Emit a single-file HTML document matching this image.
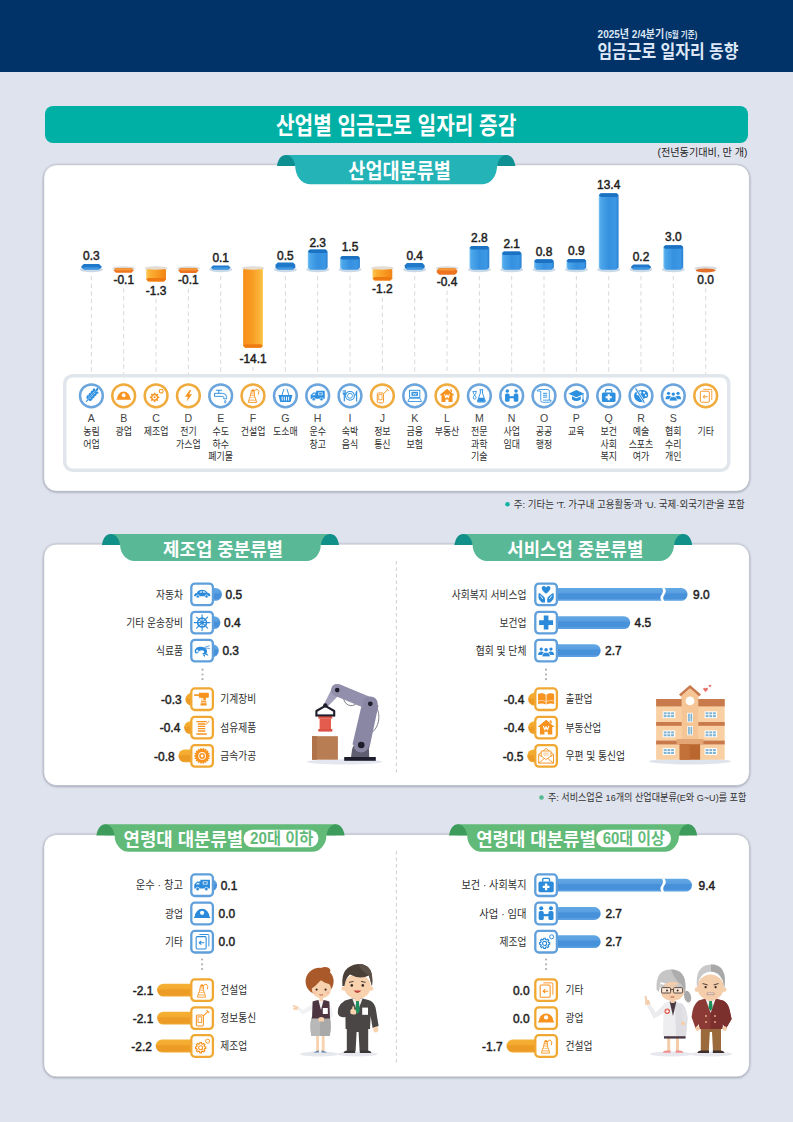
<!DOCTYPE html>
<html lang="ko"><head><meta charset="utf-8"><title>임금근로 일자리 동향</title>
<style>html,body{margin:0;padding:0;background:#dfe3ee;}svg{display:block}text{font-family:"Liberation Sans","Noto Sans CJK KR",sans-serif;}</style></head>
<body><svg width="793" height="1122" viewBox="0 0 793 1122">
<defs>
<filter id="sh" x="-2%" y="-4%" width="104%" height="110%"><feDropShadow dx="0" dy="0.5" stdDeviation="0.8" flood-color="#3c4256" flood-opacity="0.6"/></filter>
<linearGradient id="gb" x1="0" x2="1" y1="0" y2="0"><stop offset="0" stop-color="#79c2f3"/><stop offset="0.1" stop-color="#4da7ea"/><stop offset="0.5" stop-color="#3591e0"/><stop offset="0.86" stop-color="#3c97e4"/><stop offset="1" stop-color="#2a80d2"/></linearGradient>
<linearGradient id="go" x1="0" x2="1" y1="0" y2="0"><stop offset="0" stop-color="#fdc85a"/><stop offset="0.2" stop-color="#fbb034"/><stop offset="0.7" stop-color="#f7941d"/><stop offset="1" stop-color="#f08519"/></linearGradient>
<linearGradient id="go2" x1="0" x2="1" y1="0" y2="0"><stop offset="0" stop-color="#f78f1c"/><stop offset="0.45" stop-color="#f89c22"/><stop offset="0.85" stop-color="#fbb53c"/><stop offset="1" stop-color="#fdc646"/></linearGradient>
<linearGradient id="hb" x1="0" x2="0" y1="0" y2="1"><stop offset="0" stop-color="#62a8e5"/><stop offset="0.36" stop-color="#5aa0e1"/><stop offset="0.46" stop-color="#4790da"/><stop offset="0.82" stop-color="#4790da"/><stop offset="0.9" stop-color="#5a9fe0"/><stop offset="1" stop-color="#5a9fe0"/></linearGradient>
<linearGradient id="ho" x1="0" x2="0" y1="0" y2="1"><stop offset="0" stop-color="#f6b235"/><stop offset="0.4" stop-color="#f3a92e"/><stop offset="0.5" stop-color="#ec9c25"/><stop offset="0.85" stop-color="#ec9c25"/><stop offset="1" stop-color="#f2a830"/></linearGradient>
</defs>
<rect width="793" height="1122" fill="#dfe3ee"/>
<rect width="793" height="72" fill="#023368"/>
<text x="597.6" y="38.2" font-size="11" font-weight="bold" fill="#dce6f5" textLength="66.6" lengthAdjust="spacingAndGlyphs">2025년 2/4분기</text>
<text x="665.2" y="37.6" font-size="8.6" font-weight="bold" fill="#dce6f5" textLength="32" lengthAdjust="spacingAndGlyphs">(5월 기준)</text>
<text x="597.4" y="58.2" font-size="18" font-weight="bold" fill="#dde7f6" textLength="141" lengthAdjust="spacingAndGlyphs">임금근로 일자리 동향</text>
<rect x="45" y="106" width="703" height="37" rx="8" fill="#00b0a4"/>
<text x="276" y="134" font-size="24" font-weight="bold" fill="#fff" textLength="240.3" lengthAdjust="spacingAndGlyphs">산업별 임금근로 일자리 증감</text>
<text x="657.5" y="156.2" font-size="10" fill="#222" textLength="90" lengthAdjust="spacingAndGlyphs">(전년동기대비, 만 개)</text>
<rect x="44.0" y="165.0" width="705.2" height="326.1" rx="12.5" fill="#fff" stroke="#bfc3cd" stroke-width="0.8" filter="url(#sh)"/>
<rect x="44.5" y="165.5" width="704.2" height="325.1" rx="12" fill="#fff"/>
<path d="M285.6,155 H506.7 V165.5 H497.1 A14.3,18.69999999999999 0 0 1 482.8,184.2 H309.5 A14.3,18.69999999999999 0 0 1 295.2,165.5 H285.6 Z" fill="#24b3b7"/>
<path d="M277,165.9 C278,158.7 281.6,155 285.6,155 C290.2,155 294.2,158.7 295.2,165.9 Z" fill="#0e8f91"/>
<path d="M515.3,165.9 C514.3,158.7 510.7,155 506.7,155 C502.1,155 498.1,158.7 497.1,165.9 Z" fill="#0e8f91"/>
<text x="348.3" y="177.8" font-size="21" font-weight="bold" fill="#fff" textLength="102.6" lengthAdjust="spacingAndGlyphs">산업대분류별</text>
<line x1="91.4" y1="276.0" x2="91.4" y2="374.5" stroke="#d3d5d8" stroke-width="0.9" stroke-dasharray="4.4 3.2"/>
<ellipse cx="91.4" cy="269.6" rx="11.6" ry="2.6" fill="#c9d9e8"/>
<path d="M81.5,266.3 L83.7,264.1 L99.1,264.1 L101.3,266.3 L101.3,267.2 L99.1,269.4 L83.7,269.4 L81.5,267.2 Z" fill="#1f78c9"/>
<path d="M83.0,268.4 L84.2,267.2 L98.6,267.2 L99.8,268.4 L99.8,268.2 L98.6,269.4 L84.2,269.4 L83.0,268.2 Z" fill="#3f97e2"/>
<text transform="translate(91.40,259.50) scale(0.95,1)" font-size="12.6" font-weight="normal" text-anchor="middle" fill="#1f1f1f" stroke="#1f1f1f" stroke-width="0.5" stroke-linejoin="round">0.3</text>
<line x1="123.7" y1="288.3" x2="123.7" y2="374.5" stroke="#d3d5d8" stroke-width="0.9" stroke-dasharray="4.4 3.2"/>
<ellipse cx="123.7" cy="268.4" rx="11.4" ry="2.2" fill="#d9dadc"/>
<path d="M113.5,270.4 L115.9,268.0 L131.5,268.0 L133.9,270.4 L133.9,270.3 L131.5,272.7 L115.9,272.7 L113.5,270.3 Z" fill="#ee7320"/>
<path d="M114.8,269.4 L116.0,268.2 L131.4,268.2 L132.6,269.4 L132.6,269.2 L131.4,270.4 L116.0,270.4 L114.8,269.2 Z" fill="#f59a3a"/>
<text transform="translate(123.73,284.10) scale(0.95,1)" font-size="12.6" font-weight="normal" text-anchor="middle" fill="#1f1f1f" stroke="#1f1f1f" stroke-width="0.5" stroke-linejoin="round">-0.1</text>
<line x1="156.1" y1="298.9" x2="156.1" y2="374.5" stroke="#d3d5d8" stroke-width="0.9" stroke-dasharray="4.4 3.2"/>
<ellipse cx="156.1" cy="268.4" rx="11.4" ry="2.2" fill="#d9dadc"/>
<path d="M146.2,270.0 L148.4,267.8 L163.8,267.8 L166.0,270.0 L166.0,279.3 L163.8,281.5 L148.4,281.5 L146.2,279.3 Z" fill="url(#go)"/>
<path d="M146.2,280.0 L148.1,278.1 L164.1,278.1 L166.0,280.0 L166.0,279.6 L164.1,281.5 L148.1,281.5 L146.2,279.6 Z" fill="#ef7a12"/>
<ellipse cx="156.1" cy="268.2" rx="10.6" ry="1.5" fill="#e6ddd2"/>
<text transform="translate(156.06,294.70) scale(0.95,1)" font-size="12.6" font-weight="normal" text-anchor="middle" fill="#1f1f1f" stroke="#1f1f1f" stroke-width="0.5" stroke-linejoin="round">-1.3</text>
<line x1="188.4" y1="288.6" x2="188.4" y2="374.5" stroke="#d3d5d8" stroke-width="0.9" stroke-dasharray="4.4 3.2"/>
<ellipse cx="188.4" cy="268.4" rx="11.4" ry="2.2" fill="#d9dadc"/>
<path d="M178.2,270.4 L180.6,268.0 L196.2,268.0 L198.6,270.4 L198.6,270.6 L196.2,273.0 L180.6,273.0 L178.2,270.6 Z" fill="#ee7320"/>
<path d="M179.5,269.4 L180.7,268.2 L196.1,268.2 L197.3,269.4 L197.3,269.2 L196.1,270.4 L180.7,270.4 L179.5,269.2 Z" fill="#f59a3a"/>
<text transform="translate(188.39,284.40) scale(0.95,1)" font-size="12.6" font-weight="normal" text-anchor="middle" fill="#1f1f1f" stroke="#1f1f1f" stroke-width="0.5" stroke-linejoin="round">-0.1</text>
<line x1="220.7" y1="276.0" x2="220.7" y2="374.5" stroke="#d3d5d8" stroke-width="0.9" stroke-dasharray="4.4 3.2"/>
<ellipse cx="220.7" cy="269.6" rx="11.6" ry="2.6" fill="#c9d9e8"/>
<path d="M210.8,267.8 L213.0,265.6 L228.4,265.6 L230.6,267.8 L230.6,267.2 L228.4,269.4 L213.0,269.4 L210.8,267.2 Z" fill="#1f78c9"/>
<path d="M212.3,268.4 L213.5,267.2 L227.9,267.2 L229.1,268.4 L229.1,268.2 L227.9,269.4 L213.5,269.4 L212.3,268.2 Z" fill="#3f97e2"/>
<text transform="translate(220.72,262.40) scale(0.95,1)" font-size="12.6" font-weight="normal" text-anchor="middle" fill="#1f1f1f" stroke="#1f1f1f" stroke-width="0.5" stroke-linejoin="round">0.1</text>
<line x1="253.0" y1="366.7" x2="253.0" y2="374.5" stroke="#d3d5d8" stroke-width="0.9" stroke-dasharray="4.4 3.2"/>
<ellipse cx="253.0" cy="268.4" rx="11.4" ry="2.2" fill="#d9dadc"/>
<path d="M243.1,270.0 L245.3,267.8 L260.8,267.8 L262.9,270.0 L262.9,345.5 L260.8,347.7 L245.3,347.7 L243.1,345.5 Z" fill="url(#go2)"/>
<path d="M243.1,346.2 L245.0,344.3 L261.1,344.3 L262.9,346.2 L262.9,345.8 L261.1,347.7 L245.0,347.7 L243.1,345.8 Z" fill="#ef7a12"/>
<ellipse cx="253.0" cy="268.2" rx="10.6" ry="1.5" fill="#e6ddd2"/>
<text transform="translate(253.05,362.50) scale(0.95,1)" font-size="12.6" font-weight="normal" text-anchor="middle" fill="#1f1f1f" stroke="#1f1f1f" stroke-width="0.5" stroke-linejoin="round">-14.1</text>
<line x1="285.4" y1="276.0" x2="285.4" y2="374.5" stroke="#d3d5d8" stroke-width="0.9" stroke-dasharray="4.4 3.2"/>
<ellipse cx="285.4" cy="269.6" rx="11.6" ry="2.6" fill="#c9d9e8"/>
<path d="M275.5,264.7 L277.7,262.5 L293.1,262.5 L295.3,264.7 L295.3,267.2 L293.1,269.4 L277.7,269.4 L275.5,267.2 Z" fill="#1f78c9"/>
<path d="M277.0,268.4 L278.2,267.2 L292.6,267.2 L293.8,268.4 L293.8,268.2 L292.6,269.4 L278.2,269.4 L277.0,268.2 Z" fill="#3f97e2"/>
<text transform="translate(285.38,259.70) scale(0.95,1)" font-size="12.6" font-weight="normal" text-anchor="middle" fill="#1f1f1f" stroke="#1f1f1f" stroke-width="0.5" stroke-linejoin="round">0.5</text>
<line x1="317.7" y1="276.0" x2="317.7" y2="374.5" stroke="#d3d5d8" stroke-width="0.9" stroke-dasharray="4.4 3.2"/>
<ellipse cx="317.7" cy="269.6" rx="11.6" ry="2.6" fill="#c9d9e8"/>
<path d="M307.8,251.9 L310.2,249.5 L325.2,249.5 L327.6,251.9 L327.6,267.4 L325.2,269.8 L310.2,269.8 L307.8,267.4 Z" fill="url(#gb)"/>
<path d="M307.8,251.3 L309.6,249.5 L325.8,249.5 L327.6,251.3 L327.6,251.3 L325.8,253.1 L309.6,253.1 L307.8,251.3 Z" fill="#1c72c2"/>
<text transform="translate(317.71,246.50) scale(0.95,1)" font-size="12.6" font-weight="normal" text-anchor="middle" fill="#1f1f1f" stroke="#1f1f1f" stroke-width="0.5" stroke-linejoin="round">2.3</text>
<line x1="350.0" y1="276.0" x2="350.0" y2="374.5" stroke="#d3d5d8" stroke-width="0.9" stroke-dasharray="4.4 3.2"/>
<ellipse cx="350.0" cy="269.6" rx="11.6" ry="2.6" fill="#c9d9e8"/>
<path d="M340.1,258.3 L342.5,255.9 L357.5,255.9 L359.9,258.3 L359.9,267.4 L357.5,269.8 L342.5,269.8 L340.1,267.4 Z" fill="url(#gb)"/>
<path d="M340.1,257.7 L341.9,255.9 L358.1,255.9 L359.9,257.7 L359.9,257.7 L358.1,259.5 L341.9,259.5 L340.1,257.7 Z" fill="#1c72c2"/>
<text transform="translate(350.04,250.90) scale(0.95,1)" font-size="12.6" font-weight="normal" text-anchor="middle" fill="#1f1f1f" stroke="#1f1f1f" stroke-width="0.5" stroke-linejoin="round">1.5</text>
<line x1="382.4" y1="297.5" x2="382.4" y2="374.5" stroke="#d3d5d8" stroke-width="0.9" stroke-dasharray="4.4 3.2"/>
<ellipse cx="382.4" cy="268.4" rx="11.4" ry="2.2" fill="#d9dadc"/>
<path d="M372.5,270.0 L374.7,267.8 L390.1,267.8 L392.3,270.0 L392.3,278.2 L390.1,280.4 L374.7,280.4 L372.5,278.2 Z" fill="url(#go)"/>
<path d="M372.5,278.9 L374.4,277.0 L390.4,277.0 L392.3,278.9 L392.3,278.5 L390.4,280.4 L374.4,280.4 L372.5,278.5 Z" fill="#ef7a12"/>
<ellipse cx="382.4" cy="268.2" rx="10.6" ry="1.5" fill="#e6ddd2"/>
<text transform="translate(382.37,293.30) scale(0.95,1)" font-size="12.6" font-weight="normal" text-anchor="middle" fill="#1f1f1f" stroke="#1f1f1f" stroke-width="0.5" stroke-linejoin="round">-1.2</text>
<line x1="414.7" y1="276.0" x2="414.7" y2="374.5" stroke="#d3d5d8" stroke-width="0.9" stroke-dasharray="4.4 3.2"/>
<ellipse cx="414.7" cy="269.6" rx="11.6" ry="2.6" fill="#c9d9e8"/>
<path d="M404.8,265.2 L407.0,263.0 L422.4,263.0 L424.6,265.2 L424.6,267.2 L422.4,269.4 L407.0,269.4 L404.8,267.2 Z" fill="#1f78c9"/>
<path d="M406.3,268.4 L407.5,267.2 L421.9,267.2 L423.1,268.4 L423.1,268.2 L421.9,269.4 L407.5,269.4 L406.3,268.2 Z" fill="#3f97e2"/>
<text transform="translate(414.70,259.50) scale(0.95,1)" font-size="12.6" font-weight="normal" text-anchor="middle" fill="#1f1f1f" stroke="#1f1f1f" stroke-width="0.5" stroke-linejoin="round">0.4</text>
<line x1="447.0" y1="290.6" x2="447.0" y2="374.5" stroke="#d3d5d8" stroke-width="0.9" stroke-dasharray="4.4 3.2"/>
<ellipse cx="447.0" cy="268.4" rx="11.4" ry="2.2" fill="#d9dadc"/>
<path d="M436.8,270.4 L439.2,268.0 L454.8,268.0 L457.2,270.4 L457.2,272.4 L454.8,274.8 L439.2,274.8 L436.8,272.4 Z" fill="#ee7320"/>
<path d="M438.1,269.4 L439.3,268.2 L454.7,268.2 L455.9,269.4 L455.9,269.2 L454.7,270.4 L439.3,270.4 L438.1,269.2 Z" fill="#f59a3a"/>
<text transform="translate(447.03,286.40) scale(0.95,1)" font-size="12.6" font-weight="normal" text-anchor="middle" fill="#1f1f1f" stroke="#1f1f1f" stroke-width="0.5" stroke-linejoin="round">-0.4</text>
<line x1="479.4" y1="276.0" x2="479.4" y2="374.5" stroke="#d3d5d8" stroke-width="0.9" stroke-dasharray="4.4 3.2"/>
<ellipse cx="479.4" cy="269.6" rx="11.6" ry="2.6" fill="#c9d9e8"/>
<path d="M469.5,248.3 L471.9,245.9 L486.9,245.9 L489.3,248.3 L489.3,267.4 L486.9,269.8 L471.9,269.8 L469.5,267.4 Z" fill="url(#gb)"/>
<path d="M469.5,247.7 L471.3,245.9 L487.5,245.9 L489.3,247.7 L489.3,247.7 L487.5,249.5 L471.3,249.5 L469.5,247.7 Z" fill="#1c72c2"/>
<text transform="translate(479.36,241.50) scale(0.95,1)" font-size="12.6" font-weight="normal" text-anchor="middle" fill="#1f1f1f" stroke="#1f1f1f" stroke-width="0.5" stroke-linejoin="round">2.8</text>
<line x1="511.7" y1="276.0" x2="511.7" y2="374.5" stroke="#d3d5d8" stroke-width="0.9" stroke-dasharray="4.4 3.2"/>
<ellipse cx="511.7" cy="269.6" rx="11.6" ry="2.6" fill="#c9d9e8"/>
<path d="M501.8,253.9 L504.2,251.5 L519.2,251.5 L521.6,253.9 L521.6,267.4 L519.2,269.8 L504.2,269.8 L501.8,267.4 Z" fill="url(#gb)"/>
<path d="M501.8,253.3 L503.6,251.5 L519.8,251.5 L521.6,253.3 L521.6,253.3 L519.8,255.1 L503.6,255.1 L501.8,253.3 Z" fill="#1c72c2"/>
<text transform="translate(511.69,247.80) scale(0.95,1)" font-size="12.6" font-weight="normal" text-anchor="middle" fill="#1f1f1f" stroke="#1f1f1f" stroke-width="0.5" stroke-linejoin="round">2.1</text>
<line x1="544.0" y1="276.0" x2="544.0" y2="374.5" stroke="#d3d5d8" stroke-width="0.9" stroke-dasharray="4.4 3.2"/>
<ellipse cx="544.0" cy="269.6" rx="11.6" ry="2.6" fill="#c9d9e8"/>
<path d="M534.1,261.7 L536.5,259.3 L551.5,259.3 L553.9,261.7 L553.9,267.4 L551.5,269.8 L536.5,269.8 L534.1,267.4 Z" fill="url(#gb)"/>
<path d="M534.1,261.1 L535.9,259.3 L552.1,259.3 L553.9,261.1 L553.9,261.1 L552.1,262.9 L535.9,262.9 L534.1,261.1 Z" fill="#1c72c2"/>
<text transform="translate(544.02,256.00) scale(0.95,1)" font-size="12.6" font-weight="normal" text-anchor="middle" fill="#1f1f1f" stroke="#1f1f1f" stroke-width="0.5" stroke-linejoin="round">0.8</text>
<line x1="576.4" y1="276.0" x2="576.4" y2="374.5" stroke="#d3d5d8" stroke-width="0.9" stroke-dasharray="4.4 3.2"/>
<ellipse cx="576.4" cy="269.6" rx="11.6" ry="2.6" fill="#c9d9e8"/>
<path d="M566.5,261.3 L568.9,258.9 L583.9,258.9 L586.2,261.3 L586.2,267.4 L583.9,269.8 L568.9,269.8 L566.5,267.4 Z" fill="url(#gb)"/>
<path d="M566.5,260.7 L568.2,258.9 L584.5,258.9 L586.2,260.7 L586.2,260.7 L584.5,262.5 L568.2,262.5 L566.5,260.7 Z" fill="#1c72c2"/>
<text transform="translate(576.35,255.40) scale(0.95,1)" font-size="12.6" font-weight="normal" text-anchor="middle" fill="#1f1f1f" stroke="#1f1f1f" stroke-width="0.5" stroke-linejoin="round">0.9</text>
<line x1="608.7" y1="276.0" x2="608.7" y2="374.5" stroke="#d3d5d8" stroke-width="0.9" stroke-dasharray="4.4 3.2"/>
<ellipse cx="608.7" cy="269.6" rx="11.6" ry="2.6" fill="#c9d9e8"/>
<path d="M598.8,195.7 L601.2,193.3 L616.2,193.3 L618.6,195.7 L618.6,267.4 L616.2,269.8 L601.2,269.8 L598.8,267.4 Z" fill="url(#gb)"/>
<path d="M598.8,195.1 L600.6,193.3 L616.8,193.3 L618.6,195.1 L618.6,195.1 L616.8,196.9 L600.6,196.9 L598.8,195.1 Z" fill="#1c72c2"/>
<text transform="translate(608.68,189.00) scale(0.95,1)" font-size="12.6" font-weight="normal" text-anchor="middle" fill="#1f1f1f" stroke="#1f1f1f" stroke-width="0.5" stroke-linejoin="round">13.4</text>
<line x1="641.0" y1="276.0" x2="641.0" y2="374.5" stroke="#d3d5d8" stroke-width="0.9" stroke-dasharray="4.4 3.2"/>
<ellipse cx="641.0" cy="269.6" rx="11.6" ry="2.6" fill="#c9d9e8"/>
<path d="M631.1,266.8 L633.3,264.6 L648.7,264.6 L650.9,266.8 L650.9,267.2 L648.7,269.4 L633.3,269.4 L631.1,267.2 Z" fill="#1f78c9"/>
<path d="M632.6,268.4 L633.8,267.2 L648.2,267.2 L649.4,268.4 L649.4,268.2 L648.2,269.4 L633.8,269.4 L632.6,268.2 Z" fill="#3f97e2"/>
<text transform="translate(641.01,260.90) scale(0.95,1)" font-size="12.6" font-weight="normal" text-anchor="middle" fill="#1f1f1f" stroke="#1f1f1f" stroke-width="0.5" stroke-linejoin="round">0.2</text>
<line x1="673.3" y1="276.0" x2="673.3" y2="374.5" stroke="#d3d5d8" stroke-width="0.9" stroke-dasharray="4.4 3.2"/>
<ellipse cx="673.3" cy="269.6" rx="11.6" ry="2.6" fill="#c9d9e8"/>
<path d="M663.4,247.6 L665.8,245.2 L680.8,245.2 L683.2,247.6 L683.2,267.4 L680.8,269.8 L665.8,269.8 L663.4,267.4 Z" fill="url(#gb)"/>
<path d="M663.4,247.0 L665.2,245.2 L681.4,245.2 L683.2,247.0 L683.2,247.0 L681.4,248.8 L665.2,248.8 L663.4,247.0 Z" fill="#1c72c2"/>
<text transform="translate(673.34,240.90) scale(0.95,1)" font-size="12.6" font-weight="normal" text-anchor="middle" fill="#1f1f1f" stroke="#1f1f1f" stroke-width="0.5" stroke-linejoin="round">3.0</text>
<line x1="705.7" y1="288.3" x2="705.7" y2="374.5" stroke="#d3d5d8" stroke-width="0.9" stroke-dasharray="4.4 3.2"/>
<ellipse cx="705.7" cy="268.4" rx="11.4" ry="2.2" fill="#d9dadc"/>
<ellipse cx="705.7" cy="270.4" rx="10" ry="2" fill="#e2702a"/>
<text transform="translate(705.67,284.10) scale(0.95,1)" font-size="12.6" font-weight="normal" text-anchor="middle" fill="#1f1f1f" stroke="#1f1f1f" stroke-width="0.5" stroke-linejoin="round">0.0</text>
<rect x="64.75" y="375.75" width="664" height="94.5" rx="8" fill="#fff" stroke="#e0e6ec" stroke-width="3.5"/>
<circle cx="91.4" cy="395.8" r="11.4" fill="#fff" stroke="#6ba5dc" stroke-width="2.5"/><g transform="translate(91.4,395.8) scale(0.95)"><g transform="rotate(42)"><line x1="0" y1="8.5" x2="0" y2="-8" stroke="#2d8fe0" stroke-width="1.1"/><ellipse cx="-2" cy="-6.0" rx="1.3" ry="2.1" transform="rotate(-28 -2 -6.0)" fill="#2d8fe0"/><ellipse cx="2" cy="-6.0" rx="1.3" ry="2.1" transform="rotate(28 2 -6.0)" fill="#2d8fe0"/><ellipse cx="-2" cy="-2.8" rx="1.3" ry="2.1" transform="rotate(-28 -2 -2.8)" fill="#2d8fe0"/><ellipse cx="2" cy="-2.8" rx="1.3" ry="2.1" transform="rotate(28 2 -2.8)" fill="#2d8fe0"/><ellipse cx="-2" cy="0.40000000000000036" rx="1.3" ry="2.1" transform="rotate(-28 -2 0.40000000000000036)" fill="#2d8fe0"/><ellipse cx="2" cy="0.40000000000000036" rx="1.3" ry="2.1" transform="rotate(28 2 0.40000000000000036)" fill="#2d8fe0"/><ellipse cx="-2" cy="3.6000000000000014" rx="1.3" ry="2.1" transform="rotate(-28 -2 3.6000000000000014)" fill="#2d8fe0"/><ellipse cx="2" cy="3.6000000000000014" rx="1.3" ry="2.1" transform="rotate(28 2 3.6000000000000014)" fill="#2d8fe0"/><ellipse cx="0" cy="-8.6" rx="1.2" ry="2" fill="#2d8fe0"/></g></g>
<text x="91.4" y="422.2" font-size="10.6" text-anchor="middle" fill="#444">A</text>
<text x="83.16" y="435.3" font-size="10.3" fill="#2e2e2e" textLength="16.5" lengthAdjust="spacingAndGlyphs">농림</text>
<text x="83.16" y="447.5" font-size="10.3" fill="#2e2e2e" textLength="16.5" lengthAdjust="spacingAndGlyphs">어업</text>
<circle cx="123.7" cy="395.8" r="11.4" fill="#fff" stroke="#f0ab3e" stroke-width="2.5"/><g transform="translate(123.7,395.8) scale(0.95)"><path d="M-7.6,4.2 L-7.6,3 L-6.9,3 A6.9,7.4 0 0 1 6.9,3 L7.6,3 L7.6,4.2 Z" fill="#f7931e"/><circle cx="0" cy="-0.6" r="2" fill="#fff"/></g>
<text x="123.7" y="422.2" font-size="10.6" text-anchor="middle" fill="#444">B</text>
<text x="115.49" y="435.3" font-size="10.3" fill="#2e2e2e" textLength="16.5" lengthAdjust="spacingAndGlyphs">광업</text>
<circle cx="156.1" cy="395.8" r="11.4" fill="#fff" stroke="#f0ab3e" stroke-width="2.5"/><g transform="translate(156.1,395.8) scale(0.95)"><path d="M3.33,0.74 L3.33,2.46 L2.00,2.46 L1.55,3.53 L2.49,4.48 L1.28,5.69 L0.33,4.75 L-0.74,5.20 L-0.74,6.53 L-2.46,6.53 L-2.46,5.20 L-3.53,4.75 L-4.48,5.69 L-5.69,4.48 L-4.75,3.53 L-5.20,2.46 L-6.53,2.46 L-6.53,0.74 L-5.20,0.74 L-4.75,-0.33 L-5.69,-1.28 L-4.48,-2.49 L-3.53,-1.55 L-2.46,-2.00 L-2.46,-3.33 L-0.74,-3.33 L-0.74,-2.00 L0.33,-1.55 L1.28,-2.49 L2.49,-1.28 L1.55,-0.33 L2.00,0.74Z" fill="#f7931e"/><circle cx="-1.6" cy="1.6" r="2.3" fill="#fff"/><circle cx="-1.6" cy="1.6" r="1.1" fill="#f7931e"/><circle cx="5.4" cy="-4.8" r="2" fill="#fff" stroke="#f7931e" stroke-width="1.1"/></g>
<text x="156.1" y="422.2" font-size="10.6" text-anchor="middle" fill="#444">C</text>
<text x="143.69" y="435.3" font-size="10.3" fill="#2e2e2e" textLength="24.7" lengthAdjust="spacingAndGlyphs">제조업</text>
<circle cx="188.4" cy="395.8" r="11.4" fill="#fff" stroke="#f0ab3e" stroke-width="2.5"/><g transform="translate(188.4,395.8) scale(0.95)"><path d="M1.4,-6 L-3.6,0.9 L-0.5,0.9 L-2,6.2 L3.8,-1.7 L0.7,-1.7 L3,-6 Z" fill="#f7931e"/></g>
<text x="188.4" y="422.2" font-size="10.6" text-anchor="middle" fill="#444">D</text>
<text x="180.15" y="435.3" font-size="10.3" fill="#2e2e2e" textLength="16.5" lengthAdjust="spacingAndGlyphs">전기</text>
<text x="176.02" y="447.5" font-size="10.3" fill="#2e2e2e" textLength="24.7" lengthAdjust="spacingAndGlyphs">가스업</text>
<circle cx="220.7" cy="395.8" r="11.4" fill="#fff" stroke="#6ba5dc" stroke-width="2.5"/><g transform="translate(220.7,395.8) scale(0.95)"><path d="M-6.5,-2.6 h8.5 q4.2,0 4.2,4.2 v1.6 h-3 v-1.3 q0,-1.3 -1.5,-1.3 h-8.2 z" fill="#fff" stroke="#2d8fe0" stroke-width="1"/><path d="M-2,-2.6 v-3 M-5,-5.8 h6.4" stroke="#2d8fe0" stroke-width="1.1" fill="none"/><path d="M4.8,4.6 q1.7,2.3 0,3.3 q-1.7,-1 0,-3.3z" fill="#fff" stroke="#2d8fe0" stroke-width="0.8"/></g>
<text x="220.7" y="422.2" font-size="10.6" text-anchor="middle" fill="#444">E</text>
<text x="212.48" y="435.3" font-size="10.3" fill="#2e2e2e" textLength="16.5" lengthAdjust="spacingAndGlyphs">수도</text>
<text x="212.48" y="447.5" font-size="10.3" fill="#2e2e2e" textLength="16.5" lengthAdjust="spacingAndGlyphs">하수</text>
<text x="208.35" y="459.7" font-size="10.3" fill="#2e2e2e" textLength="24.7" lengthAdjust="spacingAndGlyphs">폐기물</text>
<circle cx="253.0" cy="395.8" r="11.4" fill="#fff" stroke="#f0ab3e" stroke-width="2.5"/><g transform="translate(253.0,395.8) scale(0.95)"><path d="M-5,7 L-3.6,1.8 L2.4,1.8 L3.8,7 Z" fill="#fff" stroke="#f7931e" stroke-width="0.9" stroke-linejoin="round"/><path d="M-3.2,1.8 L-1.6,-5.6 L1.2,-5.6 L1.8,1.8" fill="#fff" stroke="#f7931e" stroke-width="0.9" stroke-linejoin="round"/><path d="M0.6,-5 L4.2,-7.2 L6.2,-4.8 L5.6,-1.4" fill="none" stroke="#f7931e" stroke-width="1"/><path d="M-4.4,4.6 H3.2 M-2.8,-0.6 h4.2 M-2.3,-2.9 h3.6" stroke="#f7931e" stroke-width="0.8"/><circle cx="-0.2" cy="-5.6" r="1.3" fill="#f7931e"/></g>
<text x="253.0" y="422.2" font-size="10.6" text-anchor="middle" fill="#444">F</text>
<text x="240.68" y="435.3" font-size="10.3" fill="#2e2e2e" textLength="24.7" lengthAdjust="spacingAndGlyphs">건설업</text>
<circle cx="285.4" cy="395.8" r="11.4" fill="#fff" stroke="#6ba5dc" stroke-width="2.5"/><g transform="translate(285.4,395.8) scale(0.95)"><path d="M-7.4,-0.8 H7.4 L5.4,6.6 H-5.4 Z" fill="#2d8fe0"/><path d="M-3.4,1 V5 M-1.15,1 V5 M1.15,1 V5 M3.4,1 V5" stroke="#fff" stroke-width="1"/><path d="M-3.6,-0.8 L-1.6,-7.2 M3.6,-0.8 L1.6,-7.2" stroke="#2d8fe0" stroke-width="1" fill="none"/></g>
<text x="285.4" y="422.2" font-size="10.6" text-anchor="middle" fill="#444">G</text>
<text x="273.01" y="435.3" font-size="10.3" fill="#2e2e2e" textLength="24.7" lengthAdjust="spacingAndGlyphs">도소매</text>
<circle cx="317.7" cy="395.8" r="11.4" fill="#fff" stroke="#6ba5dc" stroke-width="2.5"/><g transform="translate(317.7,395.8) scale(0.95)"><path d="M-1.6,-5.2 H7.4 V3 H-7.4 V-0.6 L-4.6,-3.4 H-1.6 Z" fill="#2d8fe0"/><rect x="0.6" y="-3.6" width="4.6" height="3" fill="#fff" opacity=".85"/><rect x="1.5" y="-2.9" width="2.8" height="1.6" fill="#2d8fe0"/><path d="M-4.3,-2.4 L-6,-0.6 H-2.6 V-2.4Z" fill="#fff" opacity=".8"/><circle cx="-4.2" cy="3.6" r="1.7" fill="#2d8fe0" stroke="#fff" stroke-width="0.6"/><circle cx="4" cy="3.6" r="1.7" fill="#2d8fe0" stroke="#fff" stroke-width="0.6"/></g>
<text x="317.7" y="422.2" font-size="10.6" text-anchor="middle" fill="#444">H</text>
<text x="309.47" y="435.3" font-size="10.3" fill="#2e2e2e" textLength="16.5" lengthAdjust="spacingAndGlyphs">운수</text>
<text x="309.47" y="447.5" font-size="10.3" fill="#2e2e2e" textLength="16.5" lengthAdjust="spacingAndGlyphs">창고</text>
<circle cx="350.0" cy="395.8" r="11.4" fill="#fff" stroke="#6ba5dc" stroke-width="2.5"/><g transform="translate(350.0,395.8) scale(0.95)"><circle cx="0" cy="0" r="4.6" fill="none" stroke="#2d8fe0" stroke-width="1.1"/><circle cx="0" cy="0" r="2.6" fill="none" stroke="#2d8fe0" stroke-width="0.9"/><path d="M-7.6,-6 v3.2 q0,1.6 1,1.8 v7 h1.2 v-7 q1,-0.2 1,-1.8 v-3.2 h-0.8 v3 h-0.5 v-3 h-0.7 v3 h-0.5 v-3 z" fill="#2d8fe0"/><path d="M7.6,-6 q-2.2,1.6 -2.2,5.6 h1 v6.4 h1.2 z" fill="#2d8fe0"/></g>
<text x="350.0" y="422.2" font-size="10.6" text-anchor="middle" fill="#444">I</text>
<text x="341.8" y="435.3" font-size="10.3" fill="#2e2e2e" textLength="16.5" lengthAdjust="spacingAndGlyphs">숙박</text>
<text x="341.8" y="447.5" font-size="10.3" fill="#2e2e2e" textLength="16.5" lengthAdjust="spacingAndGlyphs">음식</text>
<circle cx="382.4" cy="395.8" r="11.4" fill="#fff" stroke="#f0ab3e" stroke-width="2.5"/><g transform="translate(382.4,395.8) scale(0.95)"><rect x="-5.4" y="-3" width="6.6" height="10.4" rx="1.3" fill="#fff" stroke="#f7931e" stroke-width="1"/><rect x="-3.8" y="-1.2" width="3.4" height="5.4" fill="none" stroke="#f7931e" stroke-width="0.8"/><path d="M1.2,-2.2 L5.4,-6.2 M4.2,-7.6 L6.8,-5" stroke="#f7931e" stroke-width="1" fill="none"/></g>
<text x="382.4" y="422.2" font-size="10.6" text-anchor="middle" fill="#444">J</text>
<text x="374.13" y="435.3" font-size="10.3" fill="#2e2e2e" textLength="16.5" lengthAdjust="spacingAndGlyphs">정보</text>
<text x="374.13" y="447.5" font-size="10.3" fill="#2e2e2e" textLength="16.5" lengthAdjust="spacingAndGlyphs">통신</text>
<circle cx="414.7" cy="395.8" r="11.4" fill="#fff" stroke="#6ba5dc" stroke-width="2.5"/><g transform="translate(414.7,395.8) scale(0.95)"><rect x="-5.4" y="-5.8" width="10.8" height="7.4" fill="#fff" stroke="#2d8fe0" stroke-width="1"/><rect x="-3.4" y="-4.2" width="6.8" height="4.2" fill="#2d8fe0"/><path d="M-1.9,-3.2 L-1,-1 L0,-2.8 L1,-1 L1.9,-3.2" stroke="#fff" stroke-width="0.7" fill="none"/><path d="M-5.6,2.6 H5.6 L7.2,6 H-7.2 Z" fill="#fff" stroke="#2d8fe0" stroke-width="0.9" stroke-linejoin="round"/></g>
<text x="414.7" y="422.2" font-size="10.6" text-anchor="middle" fill="#444">K</text>
<text x="406.46" y="435.3" font-size="10.3" fill="#2e2e2e" textLength="16.5" lengthAdjust="spacingAndGlyphs">금융</text>
<text x="406.46" y="447.5" font-size="10.3" fill="#2e2e2e" textLength="16.5" lengthAdjust="spacingAndGlyphs">보험</text>
<circle cx="447.0" cy="395.8" r="11.4" fill="#fff" stroke="#f0ab3e" stroke-width="2.5"/><g transform="translate(447.0,395.8) scale(0.95)"><path d="M0,-7.4 L8,-0.6 H5.8 V6.6 H1.6 V3.8 H-1.6 V6.6 H-5.8 V-0.6 H-8 Z" fill="#f7931e"/><path d="M3.4,-6.6 h1.8 v3 l-1.8,-1.5z" fill="#f7931e"/><path d="M-2.6,-1.6 L-1.3,2 L0,-0.8 L1.3,2 L2.6,-1.6" stroke="#fff" stroke-width="1.1" fill="none" stroke-linejoin="round"/></g>
<text x="447.0" y="422.2" font-size="10.6" text-anchor="middle" fill="#444">L</text>
<text x="434.66" y="435.3" font-size="10.3" fill="#2e2e2e" textLength="24.7" lengthAdjust="spacingAndGlyphs">부동산</text>
<circle cx="479.4" cy="395.8" r="11.4" fill="#fff" stroke="#6ba5dc" stroke-width="2.5"/><g transform="translate(479.4,395.8) scale(0.95)"><path d="M0.2,-6.4 h3.8 M1,-6.4 v3.6 L-2,5.4 q-0.4,1.2 0.8,1.2 h6.6 q1.2,0 0.8,-1.2 L3.2,-2.8 v-3.6" fill="#fff" stroke="#2d8fe0" stroke-width="1" stroke-linejoin="round"/><path d="M-0.4,2 h5 l1.3,3.6 q0.2,0.6 -0.5,0.6 h-6.6 q-0.7,0 -0.5,-0.6z" fill="#2d8fe0"/><path d="M-7.2,-4.6 h4.4 M-6.4,-4.6 v1.8 l1.4,2 l-1.4,2 v1 q0,1.4 1.4,1.4 q1.4,0 1.4,-1.4 v-1 l-1.4,-2 l1.4,-2 v-1.8" fill="#fff" stroke="#2d8fe0" stroke-width="0.9" stroke-linejoin="round"/></g>
<text x="479.4" y="422.2" font-size="10.6" text-anchor="middle" fill="#444">M</text>
<text x="471.12" y="435.3" font-size="10.3" fill="#2e2e2e" textLength="16.5" lengthAdjust="spacingAndGlyphs">전문</text>
<text x="471.12" y="447.5" font-size="10.3" fill="#2e2e2e" textLength="16.5" lengthAdjust="spacingAndGlyphs">과학</text>
<text x="471.12" y="459.7" font-size="10.3" fill="#2e2e2e" textLength="16.5" lengthAdjust="spacingAndGlyphs">기술</text>
<circle cx="511.7" cy="395.8" r="11.4" fill="#fff" stroke="#6ba5dc" stroke-width="2.5"/><g transform="translate(511.7,395.8) scale(0.95)"><circle cx="-4.6" cy="-5" r="1.9" fill="#2d8fe0"/><circle cx="4.6" cy="-5" r="1.9" fill="#2d8fe0"/><rect x="-7" y="-2.4" width="4.8" height="8.6" rx="1.6" fill="#2d8fe0"/><rect x="2.2" y="-2.4" width="4.8" height="8.6" rx="1.6" fill="#2d8fe0"/><rect x="-3" y="0.4" width="6" height="2.2" fill="#2d8fe0"/></g>
<text x="511.7" y="422.2" font-size="10.6" text-anchor="middle" fill="#444">N</text>
<text x="503.45" y="435.3" font-size="10.3" fill="#2e2e2e" textLength="16.5" lengthAdjust="spacingAndGlyphs">사업</text>
<text x="503.45" y="447.5" font-size="10.3" fill="#2e2e2e" textLength="16.5" lengthAdjust="spacingAndGlyphs">임대</text>
<circle cx="544.0" cy="395.8" r="11.4" fill="#fff" stroke="#6ba5dc" stroke-width="2.5"/><g transform="translate(544.0,395.8) scale(0.95)"><path d="M-5.6,-6.6 H4 q1.6,0 1.6,1.6 V4.6 M-3.4,-5 V5 q0,1.8 1.8,1.8 H5.8 q1.6,0 1.6,-1.6 v-0.6 H-1" fill="none" stroke="#2d8fe0" stroke-width="0.9" stroke-linejoin="round"/><path d="M-5.6,-6.6 q-1.6,0 -1.6,1.6 H-3.4" fill="none" stroke="#2d8fe0" stroke-width="0.9"/><path d="M-1,-2.6 h4.4 M-1,-0.6 h4.4 M-1,1.4 h4.4" stroke="#2d8fe0" stroke-width="1"/></g>
<text x="544.0" y="422.2" font-size="10.6" text-anchor="middle" fill="#444">O</text>
<text x="535.78" y="435.3" font-size="10.3" fill="#2e2e2e" textLength="16.5" lengthAdjust="spacingAndGlyphs">공공</text>
<text x="535.78" y="447.5" font-size="10.3" fill="#2e2e2e" textLength="16.5" lengthAdjust="spacingAndGlyphs">행정</text>
<circle cx="576.4" cy="395.8" r="11.4" fill="#fff" stroke="#6ba5dc" stroke-width="2.5"/><g transform="translate(576.4,395.8) scale(0.95)"><path d="M0,-6 L8.4,-2.2 L0,1.6 L-8.4,-2.2 Z" fill="#2d8fe0"/><path d="M-4.6,0.4 V4 q4.6,3.2 9.2,0 V0.4 L0,2.6 Z" fill="#2d8fe0"/><path d="M7,-1.8 V4.2" stroke="#2d8fe0" stroke-width="0.9"/><path d="M6.2,3.6 h1.7 l0.5,3.2 h-2.7z" fill="#2d8fe0"/></g>
<text x="576.4" y="422.2" font-size="10.6" text-anchor="middle" fill="#444">P</text>
<text x="568.11" y="435.3" font-size="10.3" fill="#2e2e2e" textLength="16.5" lengthAdjust="spacingAndGlyphs">교육</text>
<circle cx="608.7" cy="395.8" r="11.4" fill="#fff" stroke="#6ba5dc" stroke-width="2.5"/><g transform="translate(608.7,395.8) scale(0.95)"><rect x="-7.2" y="-3.4" width="14.4" height="10" rx="1.6" fill="#2d8fe0"/><path d="M-3.2,-3.4 v-2 q0,-1 1,-1 h4.4 q1,0 1,1 v2" fill="none" stroke="#2d8fe0" stroke-width="1.3"/><path d="M-1.1,-1.6 h2.2 v2.1 h2.1 v2.2 h-2.1 v2.1 h-2.2 v-2.1 h-2.1 v-2.2 h2.1z" fill="#fff"/></g>
<text x="608.7" y="422.2" font-size="10.6" text-anchor="middle" fill="#444">Q</text>
<text x="600.44" y="435.3" font-size="10.3" fill="#2e2e2e" textLength="16.5" lengthAdjust="spacingAndGlyphs">보건</text>
<text x="600.44" y="447.5" font-size="10.3" fill="#2e2e2e" textLength="16.5" lengthAdjust="spacingAndGlyphs">사회</text>
<text x="600.44" y="459.7" font-size="10.3" fill="#2e2e2e" textLength="16.5" lengthAdjust="spacingAndGlyphs">복지</text>
<circle cx="641.0" cy="395.8" r="11.4" fill="#fff" stroke="#6ba5dc" stroke-width="2.5"/><g transform="translate(641.0,395.8) scale(0.95)"><path d="M0.6,-6 C6,-6.6 8.4,-2.6 7.4,0.6 C6.6,3 4.2,2 3.2,3.2 C2.2,4.6 3.4,6.4 0.6,6.6 C-4.4,6.8 -7.6,3 -7.2,-0.6 C-6.8,-4 -3.4,-5.6 0.6,-6 Z" fill="#2d8fe0"/><circle cx="-3.6" cy="-1.6" r="1.1" fill="#fff"/><circle cx="-0.6" cy="-3.6" r="1.1" fill="#fff"/><circle cx="3.2" cy="-3.2" r="1.1" fill="#fff"/><circle cx="5" cy="-0.4" r="1" fill="#fff"/><path d="M-5.6,-7.6 L3.4,6.6" stroke="#fff" stroke-width="2.6"/><path d="M-5.8,-7.8 L3,6" stroke="#2d8fe0" stroke-width="1.2"/><path d="M2.4,5 l2,3 l-2.8,-1.6z" fill="#2d8fe0"/></g>
<text x="641.0" y="422.2" font-size="10.6" text-anchor="middle" fill="#444">R</text>
<text x="632.77" y="435.3" font-size="10.3" fill="#2e2e2e" textLength="16.5" lengthAdjust="spacingAndGlyphs">예술</text>
<text x="628.64" y="447.5" font-size="10.3" fill="#2e2e2e" textLength="24.7" lengthAdjust="spacingAndGlyphs">스포츠</text>
<text x="632.77" y="459.7" font-size="10.3" fill="#2e2e2e" textLength="16.5" lengthAdjust="spacingAndGlyphs">여가</text>
<circle cx="673.3" cy="395.8" r="11.4" fill="#fff" stroke="#6ba5dc" stroke-width="2.5"/><g transform="translate(673.3,395.8) scale(0.95)"><circle cx="-5" cy="-2.6" r="1.7" fill="#2d8fe0"/><circle cx="5" cy="-2.6" r="1.7" fill="#2d8fe0"/><path d="M-8.2,3.6 q0,-3.6 3.2,-3.6 q3.2,0 3.2,3.6z" fill="#2d8fe0"/><path d="M1.8,3.6 q0,-3.6 3.2,-3.6 q3.2,0 3.2,3.6z" fill="#2d8fe0"/><circle cx="0" cy="-1.8" r="2.4" fill="#fff"/><circle cx="0" cy="-1.8" r="1.8" fill="#2d8fe0"/><path d="M-4.2,5.4 q0,-4.6 4.2,-4.6 q4.2,0 4.2,4.6z" fill="#2d8fe0" stroke="#fff" stroke-width="0.7"/></g>
<text x="673.3" y="422.2" font-size="10.6" text-anchor="middle" fill="#444">S</text>
<text x="665.1" y="435.3" font-size="10.3" fill="#2e2e2e" textLength="16.5" lengthAdjust="spacingAndGlyphs">협회</text>
<text x="665.1" y="447.5" font-size="10.3" fill="#2e2e2e" textLength="16.5" lengthAdjust="spacingAndGlyphs">수리</text>
<text x="665.1" y="459.7" font-size="10.3" fill="#2e2e2e" textLength="16.5" lengthAdjust="spacingAndGlyphs">개인</text>
<circle cx="705.7" cy="395.8" r="11.4" fill="#fff" stroke="#f0ab3e" stroke-width="2.5"/><g transform="translate(705.7,395.8) scale(0.95)"><path d="M-2.6,-6.8 H5.6 q0.8,0 0.8,0.8 V4.4" fill="none" stroke="#f7931e" stroke-width="0.9"/><rect x="-5.6" y="-4.8" width="9.4" height="11.6" rx="1" fill="#fff" stroke="#f7931e" stroke-width="1"/><path d="M2,1 H-2.6 M-0.8,-0.8 L-2.8,1 L-0.8,2.8" stroke="#f7931e" stroke-width="1" fill="none"/></g>
<text x="697.43" y="435.3" font-size="10.3" fill="#2e2e2e" textLength="16.5" lengthAdjust="spacingAndGlyphs">기타</text>
<circle cx="507.5" cy="504.3" r="2.3" fill="#14b3a8"/>
<text x="513.8" y="508" font-size="9.8" fill="#333" textLength="231" lengthAdjust="spacingAndGlyphs">주: 기타는 'T. 가구내 고용활동'과 'U. 국제·외국기관'을 포함</text>
<rect x="44.0" y="544.3" width="705.2" height="241" rx="12.5" fill="#fff" stroke="#bfc3cd" stroke-width="0.8" filter="url(#sh)"/>
<rect x="44.5" y="544.8" width="704.2" height="240" rx="12" fill="#fff"/>
<path d="M110.5,534 H330.4 V544.6 H320.8 A14.3,16.399999999999977 0 0 1 306.5,561 H134.4 A14.3,16.399999999999977 0 0 1 120.1,544.6 H110.5 Z" fill="#59b996"/>
<path d="M101.9,545.0 C102.9,537.8 106.5,534 110.5,534 C115.1,534 119.1,537.8 120.1,545.0 Z" fill="#118f89"/>
<path d="M339,545.0 C338,537.8 334.4,534 330.4,534 C325.8,534 321.8,537.8 320.8,545.0 Z" fill="#118f89"/>
<text x="163.1" y="555.6" font-size="18.4" font-weight="bold" fill="#fff" textLength="119.9" lengthAdjust="spacingAndGlyphs">제조업 중분류별</text>
<path d="M463.0,534 H683.6 V544.6 H674.0 A14.3,16.399999999999977 0 0 1 659.7,561 H486.9 A14.3,16.399999999999977 0 0 1 472.6,544.6 H463.0 Z" fill="#59b996"/>
<path d="M454.4,545.0 C455.4,537.8 459.0,534 463.0,534 C467.6,534 471.6,537.8 472.6,545.0 Z" fill="#118f89"/>
<path d="M692.2,545.0 C691.2,537.8 687.6,534 683.6,534 C679.0,534 675.0,537.8 674.0,545.0 Z" fill="#118f89"/>
<text x="507.3" y="555.6" font-size="18.4" font-weight="bold" fill="#fff" textLength="136" lengthAdjust="spacingAndGlyphs">서비스업 중분류별</text>
<line x1="396.4" y1="561" x2="396.4" y2="773" stroke="#bfc2c6" stroke-width="0.8" stroke-dasharray="3.5 3"/>
<path d="M211.0,588.0 H215.5 a6.4,6.4 0 0 1 0,12.8 H211.0 Z" fill="url(#hb)"/>
<rect x="191.30" y="583.60" width="21.6" height="21.6" rx="3.6" fill="#fff" stroke="#5f9fdb" stroke-width="2.3"/>
<g transform="translate(202.1,594.4) scale(1.06)"><path d="M-7.6,1.6 q0,-2.6 2.6,-3 q1.4,-3 5,-3 q3.4,0 5.2,2.8 q2.6,0.4 2.6,2.2 q0,1.2 -1.2,1.2 h-13 q-1.2,0 -1.2,-0.2z" fill="#2b8ad9"/><circle cx="-4" cy="2" r="1.5" fill="#2b8ad9" stroke="#fff" stroke-width="0.6"/><circle cx="4.2" cy="2" r="1.5" fill="#2b8ad9" stroke="#fff" stroke-width="0.6"/><path d="M-2.6,-1.6 q1,-1.8 2.6,-1.8 v1.8z M0.8,-3.4 q2,0 3,1.8 h-3z" fill="#fff" opacity=".7"/></g>
<text x="156.01" y="598.5" font-size="11.2" fill="#2e2e2e" textLength="26.9" lengthAdjust="spacingAndGlyphs">자동차</text>
<text transform="translate(225.50,599.00) scale(0.95,1)" font-size="12.6" font-weight="normal" text-anchor="start" fill="#1f1f1f" stroke="#1f1f1f" stroke-width="0.5" stroke-linejoin="round">0.5</text>
<path d="M211.0,616.2 H214.0 a6.4,6.4 0 0 1 0,12.8 H211.0 Z" fill="url(#hb)"/>
<rect x="191.30" y="611.80" width="21.6" height="21.6" rx="3.6" fill="#fff" stroke="#5f9fdb" stroke-width="2.3"/>
<g transform="translate(202.1,622.6) scale(1.06)"><circle cx="0" cy="0" r="4.2" fill="none" stroke="#2b8ad9" stroke-width="1.5"/><circle cx="0" cy="0" r="1.5" fill="#2b8ad9"/><line x1="1.20" y1="0.00" x2="7.40" y2="0.00" stroke="#2b8ad9" stroke-width="1" stroke-linecap="round"/><line x1="0.85" y1="0.85" x2="5.23" y2="5.23" stroke="#2b8ad9" stroke-width="1" stroke-linecap="round"/><line x1="0.00" y1="1.20" x2="0.00" y2="7.40" stroke="#2b8ad9" stroke-width="1" stroke-linecap="round"/><line x1="-0.85" y1="0.85" x2="-5.23" y2="5.23" stroke="#2b8ad9" stroke-width="1" stroke-linecap="round"/><line x1="-1.20" y1="0.00" x2="-7.40" y2="0.00" stroke="#2b8ad9" stroke-width="1" stroke-linecap="round"/><line x1="-0.85" y1="-0.85" x2="-5.23" y2="-5.23" stroke="#2b8ad9" stroke-width="1" stroke-linecap="round"/><line x1="-0.00" y1="-1.20" x2="-0.00" y2="-7.40" stroke="#2b8ad9" stroke-width="1" stroke-linecap="round"/><line x1="0.85" y1="-0.85" x2="5.23" y2="-5.23" stroke="#2b8ad9" stroke-width="1" stroke-linecap="round"/></g>
<text x="126.19" y="626.7" font-size="11.2" fill="#2e2e2e" textLength="56.7" lengthAdjust="spacingAndGlyphs">기타 운송장비</text>
<text transform="translate(224.00,627.20) scale(0.95,1)" font-size="12.6" font-weight="normal" text-anchor="start" fill="#1f1f1f" stroke="#1f1f1f" stroke-width="0.5" stroke-linejoin="round">0.4</text>
<path d="M211.0,644.2 H212.4 a6.4,6.4 0 0 1 0,12.8 H211.0 Z" fill="url(#hb)"/>
<rect x="191.30" y="639.80" width="21.6" height="21.6" rx="3.6" fill="#fff" stroke="#5f9fdb" stroke-width="2.3"/>
<g transform="translate(202.1,650.6) scale(1.06)"><path d="M-7,0.4 C-6.6,-3.6 -1,-4.6 2.4,-2.8 C5,-1.4 5.4,1.4 3.6,3 C2.2,4.2 0.4,3.8 0,2.6 C1.6,2.8 2.6,1.4 1.6,0.4 C0.2,-1 -2.6,-0.2 -3.4,1.6 C-4.6,3.6 -7.2,3 -7,0.4Z" fill="#2b8ad9"/><path d="M2,-3 L7.2,-4.6 M3,-2.4 L7.4,-2" stroke="#2b8ad9" stroke-width="0.7" fill="none"/><path d="M2.6,3.4 l3.4,1.6 l-1.4,-2.4z M0.4,3.6 l2,2.4 l0.6,-2z" fill="#2b8ad9"/><circle cx="-4.6" cy="0.4" r="1.3" fill="#fff" opacity=".8"/></g>
<text x="156.01" y="654.7" font-size="11.2" fill="#2e2e2e" textLength="26.9" lengthAdjust="spacingAndGlyphs">식료품</text>
<text transform="translate(222.40,655.20) scale(0.95,1)" font-size="12.6" font-weight="normal" text-anchor="start" fill="#1f1f1f" stroke="#1f1f1f" stroke-width="0.5" stroke-linejoin="round">0.3</text>
<circle cx="202.5" cy="669.7" r="1.1" fill="#aeb0b5"/>
<circle cx="202.5" cy="674.5" r="1.1" fill="#aeb0b5"/>
<circle cx="202.5" cy="679.2" r="1.1" fill="#aeb0b5"/>
<path d="M193.2,692.8 H191.8 a6.4,6.4 0 0 0 0,12.8 H193.2 Z" fill="url(#ho)"/>
<rect x="191.30" y="688.40" width="21.6" height="21.6" rx="3.6" fill="#fff" stroke="#f0a832" stroke-width="2.3"/>
<g transform="translate(202.1,699.2) scale(1.06)"><path d="M-3,-6 H5.4 q1,0 1,1 V-2.4 q0,1 -1,1 H3.4 L4.4,6 H-1.6 L-0.4,-1.4 H-3 Z" fill="#f7931e"/><rect x="-7.6" y="-4.6" width="4.8" height="1.5" fill="#f7931e"/><path d="M-1,1.4 h4.6 M-1.4,3.4 h5.4" stroke="#fff" stroke-width="0.7"/><circle cx="0.4" cy="-0.2" r="0.9" fill="#fff"/></g>
<text x="220.3" y="703.3" font-size="11.2" fill="#2e2e2e" textLength="35.8" lengthAdjust="spacingAndGlyphs">기계장비</text>
<text transform="translate(181.60,703.80) scale(0.95,1)" font-size="12.6" font-weight="normal" text-anchor="end" fill="#1f1f1f" stroke="#1f1f1f" stroke-width="0.5" stroke-linejoin="round">-0.3</text>
<path d="M193.2,721.2 H190.5 a6.4,6.4 0 0 0 0,12.8 H193.2 Z" fill="url(#ho)"/>
<rect x="191.30" y="716.80" width="21.6" height="21.6" rx="3.6" fill="#fff" stroke="#f0a832" stroke-width="2.3"/>
<g transform="translate(202.1,727.6) scale(1.06)"><path d="M-5.4,-5.6 H4.4 M-5.4,6 H4.4" stroke="#f7931e" stroke-width="1.3"/><path d="M-4,-3.4 H3 M-4,-1.2 H3 M-4,1 H3 M-4,3.2 H3" stroke="#f7931e" stroke-width="1.2"/><path d="M3.4,-2.6 L6.8,-6.4" stroke="#f7931e" stroke-width="0.9"/></g>
<text x="220.3" y="731.7" font-size="11.2" fill="#2e2e2e" textLength="35.8" lengthAdjust="spacingAndGlyphs">섬유제품</text>
<text transform="translate(180.30,732.20) scale(0.95,1)" font-size="12.6" font-weight="normal" text-anchor="end" fill="#1f1f1f" stroke="#1f1f1f" stroke-width="0.5" stroke-linejoin="round">-0.4</text>
<path d="M193.2,749.5 H184.8 a6.4,6.4 0 0 0 0,12.8 H193.2 Z" fill="url(#ho)"/>
<rect x="191.30" y="745.10" width="21.6" height="21.6" rx="3.6" fill="#fff" stroke="#f0a832" stroke-width="2.3"/>
<g transform="translate(202.1,755.9) scale(1.06)"><path d="M7.48,-0.58 L7.48,0.58 L6.46,0.68 L6.31,1.57 L7.22,2.02 L6.83,3.10 L5.84,2.85 L5.39,3.63 L6.10,4.37 L5.36,5.25 L4.52,4.68 L3.82,5.26 L4.24,6.19 L3.24,6.76 L2.64,5.94 L1.79,6.25 L1.87,7.26 L0.73,7.46 L0.45,6.48 L-0.45,6.48 L-0.73,7.46 L-1.87,7.26 L-1.79,6.25 L-2.64,5.94 L-3.24,6.76 L-4.24,6.19 L-3.82,5.26 L-4.52,4.68 L-5.36,5.25 L-6.10,4.37 L-5.39,3.63 L-5.84,2.85 L-6.83,3.10 L-7.22,2.02 L-6.31,1.57 L-6.46,0.68 L-7.48,0.58 L-7.48,-0.58 L-6.46,-0.68 L-6.31,-1.57 L-7.22,-2.02 L-6.83,-3.10 L-5.84,-2.85 L-5.39,-3.63 L-6.10,-4.37 L-5.36,-5.25 L-4.52,-4.68 L-3.82,-5.26 L-4.24,-6.19 L-3.24,-6.76 L-2.64,-5.94 L-1.79,-6.25 L-1.87,-7.26 L-0.73,-7.46 L-0.45,-6.48 L0.45,-6.48 L0.73,-7.46 L1.87,-7.26 L1.79,-6.25 L2.64,-5.94 L3.24,-6.76 L4.24,-6.19 L3.82,-5.26 L4.52,-4.68 L5.36,-5.25 L6.10,-4.37 L5.39,-3.63 L5.84,-2.85 L6.83,-3.10 L7.22,-2.02 L6.31,-1.57 L6.46,-0.68Z" fill="#f7931e"/><circle cx="0" cy="0" r="3.6" fill="#fff"/><circle cx="0" cy="0" r="2.7" fill="#f7931e"/><circle cx="0" cy="0" r="1.3" fill="#fff"/></g>
<text x="220.3" y="760" font-size="11.2" fill="#2e2e2e" textLength="35.8" lengthAdjust="spacingAndGlyphs">금속가공</text>
<text transform="translate(174.60,760.50) scale(0.95,1)" font-size="12.6" font-weight="normal" text-anchor="end" fill="#1f1f1f" stroke="#1f1f1f" stroke-width="0.5" stroke-linejoin="round">-0.8</text>
<path d="M555.0,588.0 H681.1 a6.4,6.4 0 0 1 0,12.8 H555.0 Z" fill="url(#hb)"/>
<path d="M661.7,587.6 q2.6,3.2 0,6.800000000000001 q-2.6,3.2 0,6.800000000000001 h2.8 q-2.6,-3.2 0,-6.800000000000001 q2.6,-3.2 0,-6.800000000000001 z" fill="#fff"/>
<rect x="535.30" y="583.60" width="21.6" height="21.6" rx="3.6" fill="#fff" stroke="#5f9fdb" stroke-width="2.3"/>
<g transform="translate(546.1,594.4) scale(1.06)"><path d="M0,-0.6 C-5.6,-4.6 -4.6,-8 -2.2,-8 C-0.8,-8 0,-6.8 0,-6.2 C0,-6.8 0.8,-8 2.2,-8 C4.6,-8 5.6,-4.6 0,-0.6Z" fill="#2b8ad9"/><path d="M-1,7.6 V4.6 q0,-2 -1.8,-3.2 L-6,-1 q-1.2,-0.6 -1.2,0.6 V3 q0,1.6 1.2,2.6 L-4,7.6Z" fill="#2b8ad9"/><path d="M1,7.6 V4.6 q0,-2 1.8,-3.2 L6,-1 q1.2,-0.6 1.2,0.6 V3 q0,1.6 -1.2,2.6 L4,7.6Z" fill="#2b8ad9"/><path d="M-5.4,1 L-3,4.4 M5.4,1 L3,4.4" stroke="#fff" stroke-width="0.8"/></g>
<text x="451.86" y="598.5" font-size="11.2" fill="#2e2e2e" textLength="74.6" lengthAdjust="spacingAndGlyphs">사회복지 서비스업</text>
<text transform="translate(693.10,599.00) scale(0.95,1)" font-size="12.6" font-weight="normal" text-anchor="start" fill="#1f1f1f" stroke="#1f1f1f" stroke-width="0.5" stroke-linejoin="round">9.0</text>
<path d="M555.0,616.2 H623.8 a6.4,6.4 0 0 1 0,12.8 H555.0 Z" fill="url(#hb)"/>
<rect x="535.30" y="611.80" width="21.6" height="21.6" rx="3.6" fill="#fff" stroke="#5f9fdb" stroke-width="2.3"/>
<g transform="translate(546.1,622.6) scale(1.06)"><path d="M-2.2,-6.6 h4.4 v4.4 h4.4 v4.4 h-4.4 v4.4 h-4.4 v-4.4 h-4.4 v-4.4 h4.4z" fill="#2b8ad9"/></g>
<text x="499.61" y="626.7" font-size="11.2" fill="#2e2e2e" textLength="26.9" lengthAdjust="spacingAndGlyphs">보건업</text>
<text transform="translate(634.60,627.20) scale(0.95,1)" font-size="12.6" font-weight="normal" text-anchor="start" fill="#1f1f1f" stroke="#1f1f1f" stroke-width="0.5" stroke-linejoin="round">4.5</text>
<path d="M555.0,644.2 H594.3 a6.4,6.4 0 0 1 0,12.8 H555.0 Z" fill="url(#hb)"/>
<rect x="535.30" y="639.80" width="21.6" height="21.6" rx="3.6" fill="#fff" stroke="#5f9fdb" stroke-width="2.3"/>
<g transform="translate(546.1,650.6) scale(1.06)"><g transform="scale(0.92) translate(0,1)"><circle cx="-5" cy="-2.6" r="1.7" fill="#2b8ad9"/><circle cx="5" cy="-2.6" r="1.7" fill="#2b8ad9"/><path d="M-8.2,3.6 q0,-3.6 3.2,-3.6 q3.2,0 3.2,3.6z" fill="#2b8ad9"/><path d="M1.8,3.6 q0,-3.6 3.2,-3.6 q3.2,0 3.2,3.6z" fill="#2b8ad9"/><circle cx="0" cy="-1.8" r="2.4" fill="#fff"/><circle cx="0" cy="-1.8" r="1.8" fill="#2b8ad9"/><path d="M-4.2,5.4 q0,-4.6 4.2,-4.6 q4.2,0 4.2,4.6z" fill="#2b8ad9" stroke="#fff" stroke-width="0.7"/></g></g>
<text x="475.83" y="654.7" font-size="11.2" fill="#2e2e2e" textLength="50.6" lengthAdjust="spacingAndGlyphs">협회 및 단체</text>
<text transform="translate(605.10,655.20) scale(0.95,1)" font-size="12.6" font-weight="normal" text-anchor="start" fill="#1f1f1f" stroke="#1f1f1f" stroke-width="0.5" stroke-linejoin="round">2.7</text>
<circle cx="546" cy="669.7" r="1.1" fill="#aeb0b5"/>
<circle cx="546" cy="674.5" r="1.1" fill="#aeb0b5"/>
<circle cx="546" cy="679.2" r="1.1" fill="#aeb0b5"/>
<path d="M537.2,692.8 H534.5 a6.4,6.4 0 0 0 0,12.8 H537.2 Z" fill="url(#ho)"/>
<rect x="535.30" y="688.40" width="21.6" height="21.6" rx="3.6" fill="#fff" stroke="#f0a832" stroke-width="2.3"/>
<g transform="translate(546.1,699.2) scale(1.06)"><path d="M-0.4,-4.2 C-2.4,-6 -5.6,-6 -7.6,-5 V4.6 C-5.6,3.8 -2.4,3.8 -0.4,5 Z" fill="#f7931e"/><path d="M0.4,-4.2 C2.4,-6 5.6,-6 7.6,-5 V4.6 C5.6,3.8 2.4,3.8 0.4,5 Z" fill="#f7931e"/><path d="M-7.6,1.8 C-5.6,1 -2.4,1 -0.4,2.2 M7.6,1.8 C5.6,1 2.4,1 0.4,2.2" stroke="#fff" stroke-width="0.6" fill="none" opacity=".8"/></g>
<text x="565.5" y="703.3" font-size="11.2" fill="#2e2e2e" textLength="26.9" lengthAdjust="spacingAndGlyphs">출판업</text>
<text transform="translate(524.30,703.80) scale(0.95,1)" font-size="12.6" font-weight="normal" text-anchor="end" fill="#1f1f1f" stroke="#1f1f1f" stroke-width="0.5" stroke-linejoin="round">-0.4</text>
<path d="M537.2,721.2 H534.5 a6.4,6.4 0 0 0 0,12.8 H537.2 Z" fill="url(#ho)"/>
<rect x="535.30" y="716.80" width="21.6" height="21.6" rx="3.6" fill="#fff" stroke="#f0a832" stroke-width="2.3"/>
<g transform="translate(546.1,727.6) scale(1.06)"><path d="M0,-7.4 L8,-0.6 H5.8 V6.6 H1.6 V3.8 H-1.6 V6.6 H-5.8 V-0.6 H-8 Z" fill="#f7931e"/><path d="M3.4,-6.6 h1.8 v3 l-1.8,-1.5z" fill="#f7931e"/><path d="M-2.6,-1.6 L-1.3,2 L0,-0.8 L1.3,2 L2.6,-1.6" stroke="#fff" stroke-width="1.1" fill="none" stroke-linejoin="round"/></g>
<text x="565.5" y="731.7" font-size="11.2" fill="#2e2e2e" textLength="35.8" lengthAdjust="spacingAndGlyphs">부동산업</text>
<text transform="translate(524.30,732.20) scale(0.95,1)" font-size="12.6" font-weight="normal" text-anchor="end" fill="#1f1f1f" stroke="#1f1f1f" stroke-width="0.5" stroke-linejoin="round">-0.4</text>
<path d="M537.2,749.5 H533.6 a6.4,6.4 0 0 0 0,12.8 H537.2 Z" fill="url(#ho)"/>
<rect x="535.30" y="745.10" width="21.6" height="21.6" rx="3.6" fill="#fff" stroke="#f0a832" stroke-width="2.3"/>
<g transform="translate(546.1,755.9) scale(1.06)"><path d="M-7,-1.4 L0,-7 L7,-1.4 V6.8 H-7 Z" fill="#fff" stroke="#f7931e" stroke-width="0.9" stroke-linejoin="round"/><path d="M-4.6,1 V-4.6 H4.6 V1" fill="#fff" stroke="#f7931e" stroke-width="0.8"/><path d="M-7,-1.4 L0,3.4 L7,-1.4 M-7,6.8 L-1.4,2.4 M7,6.8 L1.4,2.4" fill="none" stroke="#f7931e" stroke-width="0.8"/><path d="M-2.6,-2.6 h5.2 M-2.6,-0.8 h5.2" stroke="#f7931e" stroke-width="0.7" opacity=".7"/></g>
<text x="565.5" y="760" font-size="11.2" fill="#2e2e2e" textLength="59.6" lengthAdjust="spacingAndGlyphs">우편 및 통신업</text>
<text transform="translate(523.40,760.50) scale(0.95,1)" font-size="12.6" font-weight="normal" text-anchor="end" fill="#1f1f1f" stroke="#1f1f1f" stroke-width="0.5" stroke-linejoin="round">-0.5</text>
<g aria-label="robot arm"><ellipse cx="344.5" cy="761.8" rx="38" ry="2.6" fill="#e4e7ef"/><rect x="312" y="736.2" width="25.9" height="23.5" fill="#b97d53"/><rect x="312" y="736.2" width="5" height="23.5" fill="#b07248"/><rect x="318.3" y="716" width="14" height="2.6" fill="#dc5145"/><rect x="319.6" y="718.4" width="11.4" height="10.8" fill="#e45c4d"/><rect x="318.3" y="729" width="14" height="2.6" fill="#dc5145"/><path d="M343,696 C344,706 352,708 357,703" fill="none" stroke="#2b2a3a" stroke-width="0.6"/><path d="M376,706 C381.5,716 378.5,727 372.4,732" fill="none" stroke="#2b2a3a" stroke-width="0.6"/><path d="M332.6,687 L341.6,692.4 L327.2,707 L323.8,704.6 Z" fill="#a3a1bb"/><path d="M363.4,702 L377.4,705.6 L368.6,747 L353.6,744 Z" fill="#8987a3" stroke="#8987a3" stroke-width="2" stroke-linejoin="round"/><line x1="337.2" y1="690.1" x2="370.3" y2="703.8" stroke="#918fab" stroke-width="12.4" stroke-linecap="round"/><circle cx="370.3" cy="703.8" r="7.4" fill="#8987a3"/><path d="M351,757.2 L352,750 Q353.4,742.6 361,741.6 Q369,742.6 369,750 L369.2,757.2 Z" fill="#5f5e70"/><circle cx="361.2" cy="745" r="7.6" fill="#8987a3"/><rect x="344.2" y="757" width="31.6" height="3.8" fill="#1d1d2c"/><circle cx="337.2" cy="690.1" r="2.3" fill="#1d1d2c"/><circle cx="370.3" cy="703.8" r="2.4" fill="#1d1d2c"/><circle cx="361.2" cy="745" r="3.3" fill="#1d1d2c"/><path d="M325.3,705.8 L316.4,711 V716.4 M325.3,705.8 L334.2,711 V716.4" fill="none" stroke="#1d1d2c" stroke-width="2.1" stroke-linejoin="round"/><rect x="316" y="714.4" width="18.6" height="2" fill="#1d1d2c"/><circle cx="325.3" cy="705.4" r="2.2" fill="#1d1d2c"/></g>
<g aria-label="building"><ellipse cx="690" cy="761.4" rx="41" ry="3" fill="#dfe3ec"/><rect x="656.1" y="699" width="68.6" height="60.7" fill="#f9d0a3"/><rect x="656.1" y="699" width="68.6" height="7.4" fill="#c87a4c"/><rect x="656.1" y="722" width="68.6" height="3.8" fill="#c87a4c"/><rect x="656.1" y="740.6" width="68.6" height="3.8" fill="#c87a4c"/><rect x="681.6" y="693" width="16.7" height="66.7" fill="#f6c596"/><path d="M690,685 L701,694.6 L699,696.4 L690,688.6 L681,696.4 L679,694.6 Z" fill="#c87a4c"/><path d="M690,688.4 L698.3,695.6 V699 H681.6 V695.6Z" fill="#f6c596"/><circle cx="690" cy="700.9" r="4.4" fill="#fff"/><rect x="687.3" y="712.8" width="5.6" height="9.5" fill="#fff"/><rect x="688.1" y="713.5999999999999" width="1.7" height="7.9" fill="#7fb4d2"/><rect x="690.5" y="713.5999999999999" width="1.7" height="7.9" fill="#7fb4d2"/><rect x="687.3" y="726" width="5.6" height="9.3" fill="#fff"/><rect x="688.1" y="726.8" width="1.7" height="7.700000000000001" fill="#7fb4d2"/><rect x="690.5" y="726.8" width="1.7" height="7.700000000000001" fill="#7fb4d2"/><rect x="662.7" y="711.3" width="12.5" height="6.9" fill="#fff"/><rect x="663.7" y="712.3" width="2.9" height="2" fill="#7fb4d2"/><rect x="663.7" y="715.0999999999999" width="2.9" height="2.1" fill="#7fb4d2"/><rect x="667.4" y="712.3" width="2.9" height="2" fill="#7fb4d2"/><rect x="667.4" y="715.0999999999999" width="2.9" height="2.1" fill="#7fb4d2"/><rect x="671.1" y="712.3" width="2.9" height="2" fill="#7fb4d2"/><rect x="671.1" y="715.0999999999999" width="2.9" height="2.1" fill="#7fb4d2"/><rect x="662.7" y="730.4" width="12.5" height="6.9" fill="#fff"/><rect x="663.7" y="731.4" width="2.9" height="2" fill="#7fb4d2"/><rect x="663.7" y="734.1999999999999" width="2.9" height="2.1" fill="#7fb4d2"/><rect x="667.4" y="731.4" width="2.9" height="2" fill="#7fb4d2"/><rect x="667.4" y="734.1999999999999" width="2.9" height="2.1" fill="#7fb4d2"/><rect x="671.1" y="731.4" width="2.9" height="2" fill="#7fb4d2"/><rect x="671.1" y="734.1999999999999" width="2.9" height="2.1" fill="#7fb4d2"/><rect x="662.7" y="748.1" width="12.5" height="6.9" fill="#fff"/><rect x="663.7" y="749.1" width="2.9" height="2" fill="#7fb4d2"/><rect x="663.7" y="751.9" width="2.9" height="2.1" fill="#7fb4d2"/><rect x="667.4" y="749.1" width="2.9" height="2" fill="#7fb4d2"/><rect x="667.4" y="751.9" width="2.9" height="2.1" fill="#7fb4d2"/><rect x="671.1" y="749.1" width="2.9" height="2" fill="#7fb4d2"/><rect x="671.1" y="751.9" width="2.9" height="2.1" fill="#7fb4d2"/><rect x="704.6" y="711.3" width="12.5" height="6.9" fill="#fff"/><rect x="705.6" y="712.3" width="2.9" height="2" fill="#7fb4d2"/><rect x="705.6" y="715.0999999999999" width="2.9" height="2.1" fill="#7fb4d2"/><rect x="709.3" y="712.3" width="2.9" height="2" fill="#7fb4d2"/><rect x="709.3" y="715.0999999999999" width="2.9" height="2.1" fill="#7fb4d2"/><rect x="713.0" y="712.3" width="2.9" height="2" fill="#7fb4d2"/><rect x="713.0" y="715.0999999999999" width="2.9" height="2.1" fill="#7fb4d2"/><rect x="704.6" y="730.4" width="12.5" height="6.9" fill="#fff"/><rect x="705.6" y="731.4" width="2.9" height="2" fill="#7fb4d2"/><rect x="705.6" y="734.1999999999999" width="2.9" height="2.1" fill="#7fb4d2"/><rect x="709.3" y="731.4" width="2.9" height="2" fill="#7fb4d2"/><rect x="709.3" y="734.1999999999999" width="2.9" height="2.1" fill="#7fb4d2"/><rect x="713.0" y="731.4" width="2.9" height="2" fill="#7fb4d2"/><rect x="713.0" y="734.1999999999999" width="2.9" height="2.1" fill="#7fb4d2"/><rect x="704.6" y="748.1" width="12.5" height="6.9" fill="#fff"/><rect x="705.6" y="749.1" width="2.9" height="2" fill="#7fb4d2"/><rect x="705.6" y="751.9" width="2.9" height="2.1" fill="#7fb4d2"/><rect x="709.3" y="749.1" width="2.9" height="2" fill="#7fb4d2"/><rect x="709.3" y="751.9" width="2.9" height="2.1" fill="#7fb4d2"/><rect x="713.0" y="749.1" width="2.9" height="2" fill="#7fb4d2"/><rect x="713.0" y="751.9" width="2.9" height="2.1" fill="#7fb4d2"/><rect x="676.6" y="739" width="26.8" height="5.2" fill="#e3a574"/><rect x="679.7" y="744.2" width="20.4" height="15.5" fill="#b9662f"/><rect x="679.7" y="744.2" width="10" height="15.5" fill="#c27138"/><path d="M705.6,692 l-2.2,-2.2 a1.3,1.3 0 0 1 2.2,-1.4 a1.3,1.3 0 0 1 2.2,1.4z" fill="#e8726c"/><path d="M710,687.2 l-1.3,-1.3 a0.8,0.8 0 0 1 1.3,-0.9 a0.8,0.8 0 0 1 1.3,0.9z" fill="#e8726c"/></g>
<circle cx="541.5" cy="797.5" r="2.3" fill="#57b98f"/>
<text x="547.9" y="801.2" font-size="9.8" fill="#333" textLength="198.4" lengthAdjust="spacingAndGlyphs">주: 서비스업은 16개의 산업대분류(E와 G~U)를 포함</text>
<rect x="44.0" y="834.7" width="705.2" height="242" rx="12.5" fill="#fff" stroke="#bfc3cd" stroke-width="0.8" filter="url(#sh)"/>
<rect x="44.5" y="835.2" width="704.2" height="241" rx="12" fill="#fff"/>
<path d="M105.0,824.2 H336.0 V835.2 H326.4 A14.3,16.59999999999991 0 0 1 312.1,851.8 H128.9 A14.3,16.59999999999991 0 0 1 114.6,835.2 H105.0 Z" fill="#62ba78"/>
<path d="M96.4,835.6 C97.4,828.1 101.0,824.2 105.0,824.2 C109.6,824.2 113.6,828.1 114.6,835.6 Z" fill="#3d9b5c"/>
<path d="M344.6,835.6 C343.6,828.1 340.0,824.2 336.0,824.2 C331.4,824.2 327.4,828.1 326.4,835.6 Z" fill="#3d9b5c"/>
<text x="123.6" y="845.6" font-size="18" font-weight="bold" fill="#fff" textLength="119.6" lengthAdjust="spacingAndGlyphs">연령대 대분류별</text>
<rect x="243.6" y="829.8" width="74.8" height="17.4" rx="8.7" fill="#fff"/>
<text x="250.1" y="844.4" font-size="15.6" font-weight="bold" fill="#62ba78" textLength="63.1" lengthAdjust="spacingAndGlyphs">20대 이하</text>
<path d="M457.6,824.2 H688.6 V835.2 H679.0 A14.3,16.59999999999991 0 0 1 664.7,851.8 H481.5 A14.3,16.59999999999991 0 0 1 467.2,835.2 H457.6 Z" fill="#62ba78"/>
<path d="M449.0,835.6 C450.0,828.1 453.6,824.2 457.6,824.2 C462.2,824.2 466.2,828.1 467.2,835.6 Z" fill="#3d9b5c"/>
<path d="M697.2,835.6 C696.2,828.1 692.6,824.2 688.6,824.2 C684.0,824.2 680.0,828.1 679.0,835.6 Z" fill="#3d9b5c"/>
<text x="476.2" y="845.6" font-size="18" font-weight="bold" fill="#fff" textLength="119.6" lengthAdjust="spacingAndGlyphs">연령대 대분류별</text>
<rect x="596.2" y="829.8" width="74.8" height="17.4" rx="8.7" fill="#fff"/>
<text x="602.7" y="844.4" font-size="15.6" font-weight="bold" fill="#62ba78" textLength="62.1" lengthAdjust="spacingAndGlyphs">60대 이상</text>
<line x1="396.4" y1="851" x2="396.4" y2="1063" stroke="#bfc2c6" stroke-width="0.8" stroke-dasharray="3.5 3"/>
<path d="M211.0,878.8 H210.7 a6.4,6.4 0 0 1 0,12.8 H211.0 Z" fill="url(#hb)"/>
<rect x="191.30" y="874.40" width="21.6" height="21.6" rx="3.6" fill="#fff" stroke="#5f9fdb" stroke-width="2.3"/>
<g transform="translate(202.1,885.2) scale(1.06)"><path d="M-1.6,-5.2 H7.4 V3 H-7.4 V-0.6 L-4.6,-3.4 H-1.6 Z" fill="#2b8ad9"/><rect x="0.6" y="-3.6" width="4.6" height="3" fill="#fff" opacity=".85"/><rect x="1.5" y="-2.9" width="2.8" height="1.6" fill="#2b8ad9"/><path d="M-4.3,-2.4 L-6,-0.6 H-2.6 V-2.4Z" fill="#fff" opacity=".8"/><circle cx="-4.2" cy="3.6" r="1.7" fill="#2b8ad9" stroke="#fff" stroke-width="0.6"/><circle cx="4" cy="3.6" r="1.7" fill="#2b8ad9" stroke="#fff" stroke-width="0.6"/></g>
<text x="135.73" y="889.3" font-size="11.2" fill="#2e2e2e" textLength="47.2" lengthAdjust="spacingAndGlyphs">운수 · 창고</text>
<text transform="translate(220.70,889.80) scale(0.95,1)" font-size="12.6" font-weight="normal" text-anchor="start" fill="#1f1f1f" stroke="#1f1f1f" stroke-width="0.5" stroke-linejoin="round">0.1</text>
<rect x="191.30" y="902.70" width="21.6" height="21.6" rx="3.6" fill="#fff" stroke="#5f9fdb" stroke-width="2.3"/>
<g transform="translate(202.1,913.5) scale(1.06)"><path d="M-7.6,4.2 L-7.6,3 L-6.9,3 A6.9,7.4 0 0 1 6.9,3 L7.6,3 L7.6,4.2 Z" fill="#2b8ad9"/><circle cx="0" cy="-0.6" r="2" fill="#fff"/></g>
<text x="164.97" y="917.6" font-size="11.2" fill="#2e2e2e" textLength="17.9" lengthAdjust="spacingAndGlyphs">광업</text>
<text transform="translate(218.50,918.10) scale(0.95,1)" font-size="12.6" font-weight="normal" text-anchor="start" fill="#1f1f1f" stroke="#1f1f1f" stroke-width="0.5" stroke-linejoin="round">0.0</text>
<rect x="191.30" y="930.90" width="21.6" height="21.6" rx="3.6" fill="#fff" stroke="#5f9fdb" stroke-width="2.3"/>
<g transform="translate(202.1,941.7) scale(1.06)"><path d="M-2.6,-6.8 H5.6 q0.8,0 0.8,0.8 V4.4" fill="none" stroke="#2b8ad9" stroke-width="0.9"/><rect x="-5.6" y="-4.8" width="9.4" height="11.6" rx="1" fill="#fff" stroke="#2b8ad9" stroke-width="1"/><path d="M2,1 H-2.6 M-0.8,-0.8 L-2.8,1 L-0.8,2.8" stroke="#2b8ad9" stroke-width="1" fill="none"/></g>
<text x="164.97" y="945.8" font-size="11.2" fill="#2e2e2e" textLength="17.9" lengthAdjust="spacingAndGlyphs">기타</text>
<text transform="translate(218.50,946.30) scale(0.95,1)" font-size="12.6" font-weight="normal" text-anchor="start" fill="#1f1f1f" stroke="#1f1f1f" stroke-width="0.5" stroke-linejoin="round">0.0</text>
<circle cx="202.1" cy="959.5" r="1.1" fill="#aeb0b5"/>
<circle cx="202.1" cy="964.3" r="1.1" fill="#aeb0b5"/>
<circle cx="202.1" cy="969.1" r="1.1" fill="#aeb0b5"/>
<path d="M193.2,983.7 H163.5 a6.4,6.4 0 0 0 0,12.8 H193.2 Z" fill="url(#ho)"/>
<rect x="191.30" y="979.30" width="21.6" height="21.6" rx="3.6" fill="#fff" stroke="#f0a832" stroke-width="2.3"/>
<g transform="translate(202.1,990.1) scale(1.06)"><g transform="scale(0.88) translate(0,0.6)"><path d="M-5,7 L-3.6,1.8 L2.4,1.8 L3.8,7 Z" fill="#fff" stroke="#f7931e" stroke-width="0.9" stroke-linejoin="round"/><path d="M-3.2,1.8 L-1.6,-5.6 L1.2,-5.6 L1.8,1.8" fill="#fff" stroke="#f7931e" stroke-width="0.9" stroke-linejoin="round"/><path d="M0.6,-5 L4.2,-7.2 L6.2,-4.8 L5.6,-1.4" fill="none" stroke="#f7931e" stroke-width="1"/><path d="M-4.4,4.6 H3.2 M-2.8,-0.6 h4.2 M-2.3,-2.9 h3.6" stroke="#f7931e" stroke-width="0.8"/><circle cx="-0.2" cy="-5.6" r="1.3" fill="#f7931e"/></g></g>
<text x="220.3" y="994.2" font-size="11.2" fill="#2e2e2e" textLength="26.9" lengthAdjust="spacingAndGlyphs">건설업</text>
<text transform="translate(153.30,994.70) scale(0.95,1)" font-size="12.6" font-weight="normal" text-anchor="end" fill="#1f1f1f" stroke="#1f1f1f" stroke-width="0.5" stroke-linejoin="round">-2.1</text>
<path d="M193.2,1011.7 H163.5 a6.4,6.4 0 0 0 0,12.8 H193.2 Z" fill="url(#ho)"/>
<rect x="191.30" y="1007.30" width="21.6" height="21.6" rx="3.6" fill="#fff" stroke="#f0a832" stroke-width="2.3"/>
<g transform="translate(202.1,1018.1) scale(1.06)"><rect x="-5.4" y="-3" width="6.6" height="10.4" rx="1.3" fill="#fff" stroke="#f7931e" stroke-width="1"/><rect x="-3.8" y="-1.2" width="3.4" height="5.4" fill="none" stroke="#f7931e" stroke-width="0.8"/><path d="M1.2,-2.2 L5.4,-6.2 M4.2,-7.6 L6.8,-5" stroke="#f7931e" stroke-width="1" fill="none"/></g>
<text x="220.3" y="1022.2" font-size="11.2" fill="#2e2e2e" textLength="35.8" lengthAdjust="spacingAndGlyphs">정보통신</text>
<text transform="translate(153.30,1022.70) scale(0.95,1)" font-size="12.6" font-weight="normal" text-anchor="end" fill="#1f1f1f" stroke="#1f1f1f" stroke-width="0.5" stroke-linejoin="round">-2.1</text>
<path d="M193.2,1039.6 H162.1 a6.4,6.4 0 0 0 0,12.8 H193.2 Z" fill="url(#ho)"/>
<rect x="191.30" y="1035.20" width="21.6" height="21.6" rx="3.6" fill="#fff" stroke="#f0a832" stroke-width="2.3"/>
<g transform="translate(202.1,1046.0) scale(1.06)"><path d="M3.43,0.76 L3.43,2.44 L2.30,2.49 L1.84,3.59 L2.61,4.42 L1.42,5.61 L0.59,4.84 L-0.51,5.30 L-0.56,6.43 L-2.24,6.43 L-2.29,5.30 L-3.39,4.84 L-4.22,5.61 L-5.41,4.42 L-4.64,3.59 L-5.10,2.49 L-6.23,2.44 L-6.23,0.76 L-5.10,0.71 L-4.64,-0.39 L-5.41,-1.22 L-4.22,-2.41 L-3.39,-1.64 L-2.29,-2.10 L-2.24,-3.23 L-0.56,-3.23 L-0.51,-2.10 L0.59,-1.64 L1.42,-2.41 L2.61,-1.22 L1.84,-0.39 L2.30,0.71Z" fill="#fff" stroke="#f7931e" stroke-width="1.1" stroke-linejoin="round"/><circle cx="-1.4" cy="1.6" r="1.9" fill="none" stroke="#f7931e" stroke-width="1"/><circle cx="5.2" cy="-4.6" r="1.9" fill="#fff" stroke="#f7931e" stroke-width="0.9"/></g>
<text x="220.3" y="1050.1" font-size="11.2" fill="#2e2e2e" textLength="26.9" lengthAdjust="spacingAndGlyphs">제조업</text>
<text transform="translate(151.90,1050.60) scale(0.95,1)" font-size="12.6" font-weight="normal" text-anchor="end" fill="#1f1f1f" stroke="#1f1f1f" stroke-width="0.5" stroke-linejoin="round">-2.2</text>
<path d="M555.0,878.8 H685.6 a6.4,6.4 0 0 1 0,12.8 H555.0 Z" fill="url(#hb)"/>
<path d="M661.7,878.4000000000001 q2.6,3.2 0,6.800000000000001 q-2.6,3.2 0,6.800000000000001 h2.8 q-2.6,-3.2 0,-6.800000000000001 q2.6,-3.2 0,-6.800000000000001 z" fill="#fff"/>
<rect x="535.30" y="874.40" width="21.6" height="21.6" rx="3.6" fill="#fff" stroke="#5f9fdb" stroke-width="2.3"/>
<g transform="translate(546.1,885.2) scale(1.06)"><rect x="-7.2" y="-3.4" width="14.4" height="10" rx="1.6" fill="#2b8ad9"/><path d="M-3.2,-3.4 v-2 q0,-1 1,-1 h4.4 q1,0 1,1 v2" fill="none" stroke="#2b8ad9" stroke-width="1.3"/><path d="M-1.1,-1.6 h2.2 v2.1 h2.1 v2.2 h-2.1 v2.1 h-2.2 v-2.1 h-2.1 v-2.2 h2.1z" fill="#fff"/></g>
<text x="461.4" y="889.3" font-size="11.2" fill="#2e2e2e" textLength="65.1" lengthAdjust="spacingAndGlyphs">보건 · 사회복지</text>
<text transform="translate(698.50,889.80) scale(0.95,1)" font-size="12.6" font-weight="normal" text-anchor="start" fill="#1f1f1f" stroke="#1f1f1f" stroke-width="0.5" stroke-linejoin="round">9.4</text>
<path d="M555.0,907.1 H594.3 a6.4,6.4 0 0 1 0,12.8 H555.0 Z" fill="url(#hb)"/>
<rect x="535.30" y="902.70" width="21.6" height="21.6" rx="3.6" fill="#fff" stroke="#5f9fdb" stroke-width="2.3"/>
<g transform="translate(546.1,913.5) scale(1.06)"><circle cx="-4.6" cy="-5" r="1.9" fill="#2b8ad9"/><circle cx="4.6" cy="-5" r="1.9" fill="#2b8ad9"/><rect x="-7" y="-2.4" width="4.8" height="8.6" rx="1.6" fill="#2b8ad9"/><rect x="2.2" y="-2.4" width="4.8" height="8.6" rx="1.6" fill="#2b8ad9"/><rect x="-3" y="0.4" width="6" height="2.2" fill="#2b8ad9"/></g>
<text x="479.33" y="917.6" font-size="11.2" fill="#2e2e2e" textLength="47.2" lengthAdjust="spacingAndGlyphs">사업 · 임대</text>
<text transform="translate(605.40,918.10) scale(0.95,1)" font-size="12.6" font-weight="normal" text-anchor="start" fill="#1f1f1f" stroke="#1f1f1f" stroke-width="0.5" stroke-linejoin="round">2.7</text>
<path d="M555.0,935.3 H594.3 a6.4,6.4 0 0 1 0,12.8 H555.0 Z" fill="url(#hb)"/>
<rect x="535.30" y="930.90" width="21.6" height="21.6" rx="3.6" fill="#fff" stroke="#5f9fdb" stroke-width="2.3"/>
<g transform="translate(546.1,941.7) scale(1.06)"><path d="M3.43,0.76 L3.43,2.44 L2.30,2.49 L1.84,3.59 L2.61,4.42 L1.42,5.61 L0.59,4.84 L-0.51,5.30 L-0.56,6.43 L-2.24,6.43 L-2.29,5.30 L-3.39,4.84 L-4.22,5.61 L-5.41,4.42 L-4.64,3.59 L-5.10,2.49 L-6.23,2.44 L-6.23,0.76 L-5.10,0.71 L-4.64,-0.39 L-5.41,-1.22 L-4.22,-2.41 L-3.39,-1.64 L-2.29,-2.10 L-2.24,-3.23 L-0.56,-3.23 L-0.51,-2.10 L0.59,-1.64 L1.42,-2.41 L2.61,-1.22 L1.84,-0.39 L2.30,0.71Z" fill="#fff" stroke="#2b8ad9" stroke-width="1.1" stroke-linejoin="round"/><circle cx="-1.4" cy="1.6" r="1.9" fill="none" stroke="#2b8ad9" stroke-width="1"/><circle cx="5.2" cy="-4.6" r="1.9" fill="#fff" stroke="#2b8ad9" stroke-width="0.9"/></g>
<text x="499.61" y="945.8" font-size="11.2" fill="#2e2e2e" textLength="26.9" lengthAdjust="spacingAndGlyphs">제조업</text>
<text transform="translate(605.40,946.30) scale(0.95,1)" font-size="12.6" font-weight="normal" text-anchor="start" fill="#1f1f1f" stroke="#1f1f1f" stroke-width="0.5" stroke-linejoin="round">2.7</text>
<circle cx="546.1" cy="959.5" r="1.1" fill="#aeb0b5"/>
<circle cx="546.1" cy="964.3" r="1.1" fill="#aeb0b5"/>
<circle cx="546.1" cy="969.1" r="1.1" fill="#aeb0b5"/>
<rect x="535.30" y="979.30" width="21.6" height="21.6" rx="3.6" fill="#fff" stroke="#f0a832" stroke-width="2.3"/>
<g transform="translate(546.1,990.1) scale(1.06)"><path d="M-2.6,-6.8 H5.6 q0.8,0 0.8,0.8 V4.4" fill="none" stroke="#f7931e" stroke-width="0.9"/><rect x="-5.6" y="-4.8" width="9.4" height="11.6" rx="1" fill="#fff" stroke="#f7931e" stroke-width="1"/><path d="M2,1 H-2.6 M-0.8,-0.8 L-2.8,1 L-0.8,2.8" stroke="#f7931e" stroke-width="1" fill="none"/></g>
<text x="565.5" y="994.2" font-size="11.2" fill="#2e2e2e" textLength="17.9" lengthAdjust="spacingAndGlyphs">기타</text>
<text transform="translate(529.60,994.70) scale(0.95,1)" font-size="12.6" font-weight="normal" text-anchor="end" fill="#1f1f1f" stroke="#1f1f1f" stroke-width="0.5" stroke-linejoin="round">0.0</text>
<rect x="535.30" y="1007.30" width="21.6" height="21.6" rx="3.6" fill="#fff" stroke="#f0a832" stroke-width="2.3"/>
<g transform="translate(546.1,1018.1) scale(1.06)"><path d="M-7.6,4.2 L-7.6,3 L-6.9,3 A6.9,7.4 0 0 1 6.9,3 L7.6,3 L7.6,4.2 Z" fill="#f7931e"/><circle cx="0" cy="-0.6" r="2" fill="#fff"/></g>
<text x="565.5" y="1022.2" font-size="11.2" fill="#2e2e2e" textLength="17.9" lengthAdjust="spacingAndGlyphs">광업</text>
<text transform="translate(529.60,1022.70) scale(0.95,1)" font-size="12.6" font-weight="normal" text-anchor="end" fill="#1f1f1f" stroke="#1f1f1f" stroke-width="0.5" stroke-linejoin="round">0.0</text>
<path d="M537.2,1039.6 H512.9 a6.4,6.4 0 0 0 0,12.8 H537.2 Z" fill="url(#ho)"/>
<rect x="535.30" y="1035.20" width="21.6" height="21.6" rx="3.6" fill="#fff" stroke="#f0a832" stroke-width="2.3"/>
<g transform="translate(546.1,1046.0) scale(1.06)"><g transform="scale(0.88) translate(0,0.6)"><path d="M-5,7 L-3.6,1.8 L2.4,1.8 L3.8,7 Z" fill="#fff" stroke="#f7931e" stroke-width="0.9" stroke-linejoin="round"/><path d="M-3.2,1.8 L-1.6,-5.6 L1.2,-5.6 L1.8,1.8" fill="#fff" stroke="#f7931e" stroke-width="0.9" stroke-linejoin="round"/><path d="M0.6,-5 L4.2,-7.2 L6.2,-4.8 L5.6,-1.4" fill="none" stroke="#f7931e" stroke-width="1"/><path d="M-4.4,4.6 H3.2 M-2.8,-0.6 h4.2 M-2.3,-2.9 h3.6" stroke="#f7931e" stroke-width="0.8"/><circle cx="-0.2" cy="-5.6" r="1.3" fill="#f7931e"/></g></g>
<text x="565.5" y="1050.1" font-size="11.2" fill="#2e2e2e" textLength="26.9" lengthAdjust="spacingAndGlyphs">건설업</text>
<text transform="translate(502.70,1050.60) scale(0.95,1)" font-size="12.6" font-weight="normal" text-anchor="end" fill="#1f1f1f" stroke="#1f1f1f" stroke-width="0.5" stroke-linejoin="round">-1.7</text>
<g aria-label="young workers"><ellipse cx="319" cy="1054" rx="19" ry="2.6" fill="#e6e8ee"/><ellipse cx="357.5" cy="1054" rx="20" ry="2.6" fill="#e6e8ee"/><rect x="316.2" y="1034" width="2.8" height="17" fill="#f8d2ae"/><rect x="321.8" y="1034" width="2.8" height="17" fill="#f8d2ae"/><path d="M313,1052.6 l5.8,-2.4 v2.4z M321.6,1050.2 l5.8,2.4 h-5.8z" fill="#5b7fa6"/><path d="M314,1003 L303,1010 L298,1006.4 L296.6,1008.6 L303,1014.4 L315.6,1008 Z" fill="#f2f2f4"/><path d="M298.6,1006.8 l-5.6,-2 l-0.6,1.4 l2.6,1.4 l-2.2,0.6 l0.6,1.6 l4,0.2z" fill="#f8d2ae"/><path d="M328,1002.4 Q333.6,1008 332.6,1017 L329.6,1019 L327,1009Z" fill="#f2f2f4"/><path d="M311.6,1017 H330 Q332,1027 329.8,1036 H311.4 Q309.4,1026 311.6,1017Z" fill="#aaa9aa"/><path d="M311.6,1017 H320 V1036 H311.4 Q309.4,1026 311.6,1017Z" fill="#b9b8b9"/><path d="M312.6,1001.6 Q321,998 329.4,1001.6 L330,1018.6 H312 Z" fill="#4c3440"/><path d="M318.4,1000 L321,1010 L323.6,1000 Z" fill="#f4f4f6"/><rect x="322.8" y="1008" width="5" height="6" fill="#fff"/><path d="M318.6,1018 q2.6,-2 5.4,0 v3.4 h-5.4z" fill="#f8d2ae"/><rect x="319.4" y="996.6" width="3.6" height="4.6" fill="#f8d2ae"/><ellipse cx="319.6" cy="981.4" rx="14" ry="13.6" fill="#a9592a"/><ellipse cx="325" cy="970.6" rx="5.4" ry="3.6" fill="#a9592a"/><ellipse cx="321.4" cy="989.2" rx="9.6" ry="9" fill="#f8d2ae"/><path d="M309.6,990 Q309,978 320,976.4 Q329,976 332.4,984 Q326,984.6 321,980 Q316,986 309.6,990Z" fill="#a9592a"/><circle cx="316.6" cy="989.6" r="1.1" fill="#3a2a22"/><circle cx="325.6" cy="989.6" r="1.1" fill="#3a2a22"/><path d="M319.4,994.6 q1.8,1.2 3.6,0" stroke="#c0504a" stroke-width="0.9" fill="none"/><circle cx="314.8" cy="992.6" r="1.3" fill="#f4b5a0" opacity=".7"/><circle cx="327.6" cy="992.6" r="1.3" fill="#f4b5a0" opacity=".7"/><path d="M346.8,1026 H368.2 V1051 H359.6 L358.6,1032 H356.6 L355.6,1051 H346.8Z" fill="#4a4646"/><path d="M343.6,1053 q0.4,-2.6 4,-2.6 h7.6 v2.6z M371.4,1053 q-0.4,-2.6 -4,-2.6 h-7.6 v2.6z" fill="#3a3636"/><path d="M345,1000.6 Q357.4,996 370,1000.6 Q375,1003 376,1010 L378.6,1026 L372.6,1028 L370.6,1016 L370,1029 H345.6 L345.4,1017 Q340,1018 338,1014 Q337.2,1008 340.6,1004 Z" fill="#4a4646"/><path d="M352.4,999 L357.4,1012 L362.4,999 Z" fill="#f4f4f6"/><path d="M356.2,1000 h2.6 l1,11 l-2.3,3 l-2.3,-3z" fill="#1f8d5c"/><rect x="362.2" y="1007.6" width="5.8" height="7.2" fill="#fff"/><path d="M350.4,1013.6 q-0.6,-4.6 1.8,-4.8 l0.4,-2.6 q1.6,-0.4 1.6,1.4 v1.6 q2,0.2 2,2.2 v2.6 q-3,1.4 -5.8,-0.4z" fill="#f8d2ae"/><ellipse cx="375.8" cy="1029.6" rx="2.6" ry="2.8" fill="#f8d2ae"/><rect x="354.6" y="996" width="5.6" height="5" fill="#f8d2ae"/><ellipse cx="357.4" cy="986.6" rx="13.4" ry="12.4" fill="#f8d2ae"/><circle cx="343.6" cy="988.6" r="2.2" fill="#f8d2ae"/><circle cx="371.2" cy="988.6" r="2.2" fill="#f8d2ae"/><path d="M342.4,986 Q340.6,966 358,964 Q374.6,963.6 372,986 Q370,980 369,975.6 Q360,980 350,974.6 Q345.6,978 344.4,986Z" fill="#4b4038"/><path d="M358,964 Q374.6,963.6 372,986 Q370,980 369,975.6 Q362,972 358,964Z" fill="#5d5046"/><circle cx="351.8" cy="985.4" r="1.3" fill="#3a2a22"/><circle cx="362.8" cy="985.4" r="1.3" fill="#3a2a22"/><path d="M353.4,990.6 q4,4.8 8,0z" fill="#c0443c"/><path d="M349,982.4 l4.6,-1 M361,981.4 l4.6,1" stroke="#4b4038" stroke-width="1"/></g>
<g aria-label="senior workers"><ellipse cx="671" cy="1054" rx="21" ry="2.6" fill="#e6e8ee"/><ellipse cx="711" cy="1054" rx="21" ry="2.6" fill="#e6e8ee"/><rect x="667.2" y="1036" width="3" height="15" fill="#f4cdab"/><rect x="676" y="1036" width="3" height="15" fill="#f4cdab"/><path d="M662.6,1052.8 q1,-2.4 4,-2.4 h4 v2.4z M683.6,1052.8 q-1,-2.4 -4,-2.4 h-4 v2.4z" fill="#ef8f8f"/><path d="M664,1004.6 L655.6,1012.6 L649.6,1003 L646.4,1004.6 L653.6,1018.6 L666,1012 Z" fill="#ececee"/><path d="M645.2,1005 v-4.6 l-0.6,-4.4 q1.6,-0.8 2,0.8 l0.6,3 q2.4,0.2 2.6,2 l0.4,2.4z" fill="#f4cdab"/><ellipse cx="687.6" cy="996.6" rx="3.4" ry="6" fill="#a9a9a9" transform="rotate(-14 687.6 996.6)"/><path d="M663.6,1003.6 Q672.6,999.4 682,1003.6 Q686.6,1008 687.6,1018 L686,1036.4 H663 Z" fill="#eeeef0"/><path d="M675,1003 Q682,1003.6 682,1003.6 Q686.6,1008 687.6,1018 L686,1036.4 H676 Z" fill="#dedee2"/><path d="M664,1036.2 H685.6 V1038.6 H664Z" fill="#4b3a45"/><path d="M669.6,1001.6 L673,1016 L676.4,1001.6Z" fill="#4b3a45"/><path d="M682,1006 Q689,1012 686.6,1020 L683.4,1023 Q681,1021 682.6,1018 Z" fill="#e2e2e6"/><circle cx="683" cy="1023.6" r="2" fill="#f4cdab"/><circle cx="667.2" cy="1011.2" r="2.7" fill="#e05548"/><path d="M667.2,1009.4 v3.6 M665.4,1011.2 h3.6" stroke="#fff" stroke-width="1.1"/><rect x="670.6" y="998" width="4" height="5" fill="#f4cdab"/><path d="M656.6,990 Q655,969.6 671,969.6 Q686,969.6 685.4,988 L685,994 L680,984 Q670,986 660.6,982 L659,992Z" fill="#c6c6c6"/><path d="M671,969.6 Q686,969.6 685.4,988 L685,994 L680,984 Q674,978 671,969.6Z" fill="#adadad"/><ellipse cx="672.4" cy="991.4" rx="11.6" ry="9.6" fill="#f4cdab"/><path d="M660.6,984 Q670,987.6 681,983.4 L684.6,990 Q672,982 660,988Z" fill="#c6c6c6"/><rect x="661.6" y="987.6" width="9" height="5.4" rx="0.8" fill="#fff" fill-opacity=".5" stroke="#4a3a3a" stroke-width="0.9"/><rect x="673.6" y="987.6" width="9" height="5.4" rx="0.8" fill="#fff" fill-opacity=".5" stroke="#4a3a3a" stroke-width="0.9"/><path d="M670.6,989.6 h3" stroke="#4a3a3a" stroke-width="0.9"/><circle cx="667" cy="990.4" r="1" fill="#3a2a22"/><circle cx="677.6" cy="990.4" r="1" fill="#3a2a22"/><path d="M670.6,997 h3.6" stroke="#c0504a" stroke-width="1"/><path d="M700.8,1026 H721 V1051 H713 L712,1032 H709.8 L708.8,1051 H700.8Z" fill="#9b6a3c"/><path d="M697.4,1053 q0.4,-2.6 4,-2.6 h7.6 v2.6z M724.4,1053 q-0.4,-2.6 -4,-2.6 h-7.6 v2.6z" fill="#3d2e2a"/><path d="M698.6,1000.6 Q710.6,996 723,1000.6 Q728,1003 729.6,1010 L731.6,1019 L726,1028.4 L722.6,1024 L722.6,1029 H699 L699,1024 L695.6,1028.4 L691.6,1017 Q692.6,1005 698.6,1000.6 Z" fill="#8b3a36"/><path d="M710.6,998 Q723,1000.6 723,1000.6 Q728,1003 729.6,1010 L731.6,1019 L726,1028.4 L722.6,1024 L722.6,1029 H710.6Z" fill="#7c302d"/><path d="M705.6,999 L710.6,1013 L715.6,999 Z" fill="#f4f4f6"/><path d="M709.4,1000 h2.4 l0.9,8 l-2.1,3 l-2.1,-3z" fill="#1f8d5c"/><circle cx="706" cy="1016" r="0.9" fill="#e7b98c"/><circle cx="715" cy="1016" r="0.9" fill="#e7b98c"/><circle cx="706" cy="1022" r="0.9" fill="#e7b98c"/><circle cx="715" cy="1022" r="0.9" fill="#e7b98c"/><circle cx="697.6" cy="1028.6" r="2.3" fill="#f4cdab"/><circle cx="724.6" cy="1028.6" r="2.3" fill="#f4cdab"/><rect x="707.8" y="996" width="5.6" height="5" fill="#f4cdab"/><ellipse cx="710.6" cy="987.4" rx="13.2" ry="13" fill="#f4cdab"/><circle cx="697" cy="989.6" r="2.3" fill="#f4cdab"/><circle cx="724.2" cy="989.6" r="2.3" fill="#f4cdab"/><path d="M697,988 Q694.6,965 711,964.6 Q727.6,964.6 724.4,988 L722.6,980 Q719,972 711,971.6 Q702.6,972 699,980 Z" fill="#c9c9c9"/><path d="M711,964.6 Q727.6,964.6 724.4,988 L722.6,980 Q719,972 711,971.6Z" fill="#a8a8a8"/><path d="M702.6,983.4 l5,1.6 M718.6,983.4 l-5,1.6" stroke="#5a4a44" stroke-width="1.1"/><circle cx="705.6" cy="987.2" r="1.1" fill="#3a2a22"/><circle cx="715.6" cy="987.2" r="1.1" fill="#3a2a22"/><path d="M707,993 h7.2 v1.6 h-7.2z" fill="#fff" stroke="#8a5a50" stroke-width="0.5"/></g>
</svg></body></html>
